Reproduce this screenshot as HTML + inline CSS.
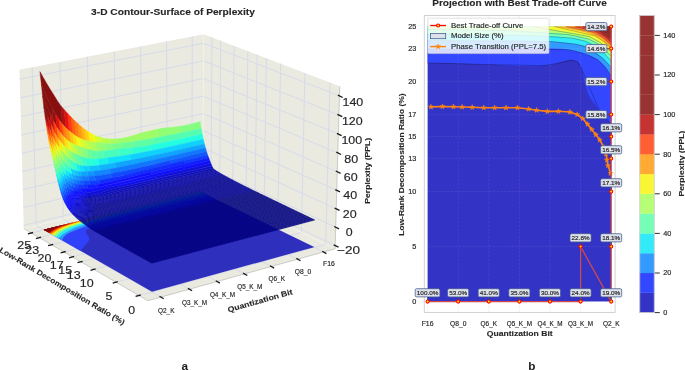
<!DOCTYPE html>
<html><head><meta charset="utf-8"><title>Perplexity surface</title>
<style>html,body{margin:0;padding:0;background:#fff}svg{display:block;will-change:transform;transform:translateZ(0)}text{font-family:"Liberation Sans",sans-serif}</style></head>
<body>
<svg width="685" height="370" viewBox="0 0 685 370" font-family="'Liberation Sans', sans-serif">
<rect width="685" height="370" fill="#fff"/>
<g id="ax3d">
<polygon points="147.9,300.7 335.1,248.8 202.9,185.1 23.8,228.6" fill="#eaeae0"/>
<polygon points="23.8,228.6 202.9,185.1 203.6,34.3 19.5,69.8" fill="#eaeae0"/>
<polygon points="335.1,248.8 202.9,185.1 203.6,34.3 339.7,86.3" fill="#eaeae0"/>
<g stroke-linecap="butt">
<line x1="160.9" y1="297.1" x2="36.2" y2="225.6" stroke="#d6dbea" stroke-width="1.0"/>
<line x1="36.2" y1="225.6" x2="32.2" y2="67.4" stroke="#d6dbea" stroke-width="1.0"/>
<line x1="189.3" y1="289.2" x2="63.2" y2="219" stroke="#d6dbea" stroke-width="1.0"/>
<line x1="63.2" y1="219" x2="60" y2="62" stroke="#d6dbea" stroke-width="1.0"/>
<line x1="217.2" y1="281.5" x2="89.8" y2="212.6" stroke="#d6dbea" stroke-width="1.0"/>
<line x1="89.8" y1="212.6" x2="87.4" y2="56.7" stroke="#d6dbea" stroke-width="1.0"/>
<line x1="244.5" y1="273.9" x2="116" y2="206.2" stroke="#d6dbea" stroke-width="1.0"/>
<line x1="116" y1="206.2" x2="114.3" y2="51.5" stroke="#d6dbea" stroke-width="1.0"/>
<line x1="271.4" y1="266.5" x2="141.7" y2="199.9" stroke="#d6dbea" stroke-width="1.0"/>
<line x1="141.7" y1="199.9" x2="140.7" y2="46.4" stroke="#d6dbea" stroke-width="1.0"/>
<line x1="297.7" y1="259.2" x2="167" y2="193.8" stroke="#d6dbea" stroke-width="1.0"/>
<line x1="167" y1="193.8" x2="166.7" y2="41.4" stroke="#d6dbea" stroke-width="1.0"/>
<line x1="323.6" y1="252" x2="191.9" y2="187.7" stroke="#d6dbea" stroke-width="1.0"/>
<line x1="191.9" y1="187.7" x2="192.3" y2="36.5" stroke="#d6dbea" stroke-width="1.0"/>
<line x1="139" y1="295.5" x2="325.7" y2="244.3" stroke="#d6dbea" stroke-width="1.0"/>
<line x1="325.7" y1="244.3" x2="330" y2="82.6" stroke="#d6dbea" stroke-width="1.0"/>
<line x1="116.1" y1="282.2" x2="301.4" y2="232.5" stroke="#d6dbea" stroke-width="1.0"/>
<line x1="301.4" y1="232.5" x2="304.9" y2="73" stroke="#d6dbea" stroke-width="1.0"/>
<line x1="94" y1="269.3" x2="277.8" y2="221.2" stroke="#d6dbea" stroke-width="1.0"/>
<line x1="277.8" y1="221.2" x2="280.6" y2="63.7" stroke="#d6dbea" stroke-width="1.0"/>
<line x1="81" y1="261.8" x2="264" y2="214.5" stroke="#d6dbea" stroke-width="1.0"/>
<line x1="264" y1="214.5" x2="266.4" y2="58.3" stroke="#d6dbea" stroke-width="1.0"/>
<line x1="72.4" y1="256.8" x2="254.9" y2="210.1" stroke="#d6dbea" stroke-width="1.0"/>
<line x1="254.9" y1="210.1" x2="257" y2="54.7" stroke="#d6dbea" stroke-width="1.0"/>
<line x1="64" y1="251.9" x2="245.9" y2="205.8" stroke="#d6dbea" stroke-width="1.0"/>
<line x1="245.9" y1="205.8" x2="247.8" y2="51.2" stroke="#d6dbea" stroke-width="1.0"/>
<line x1="51.6" y1="244.7" x2="232.6" y2="199.4" stroke="#d6dbea" stroke-width="1.0"/>
<line x1="232.6" y1="199.4" x2="234.1" y2="46" stroke="#d6dbea" stroke-width="1.0"/>
<line x1="39.4" y1="237.6" x2="219.6" y2="193.1" stroke="#d6dbea" stroke-width="1.0"/>
<line x1="219.6" y1="193.1" x2="220.7" y2="40.8" stroke="#d6dbea" stroke-width="1.0"/>
<line x1="31.4" y1="233" x2="211" y2="188.9" stroke="#d6dbea" stroke-width="1.0"/>
<line x1="211" y1="188.9" x2="211.9" y2="37.5" stroke="#d6dbea" stroke-width="1.0"/>
<line x1="23.7" y1="225.4" x2="202.9" y2="182" stroke="#d6dbea" stroke-width="1.0"/>
<line x1="202.9" y1="182" x2="335.2" y2="245.5" stroke="#d6dbea" stroke-width="1.0"/>
<line x1="23.3" y1="207.5" x2="203" y2="165" stroke="#d6dbea" stroke-width="1.0"/>
<line x1="203" y1="165" x2="335.7" y2="227.3" stroke="#d6dbea" stroke-width="1.0"/>
<line x1="22.8" y1="189.6" x2="203.1" y2="147.9" stroke="#d6dbea" stroke-width="1.0"/>
<line x1="203.1" y1="147.9" x2="336.3" y2="208.9" stroke="#d6dbea" stroke-width="1.0"/>
<line x1="22.3" y1="171.5" x2="203.2" y2="130.7" stroke="#d6dbea" stroke-width="1.0"/>
<line x1="203.2" y1="130.7" x2="336.8" y2="190.4" stroke="#d6dbea" stroke-width="1.0"/>
<line x1="21.8" y1="153.2" x2="203.2" y2="113.5" stroke="#d6dbea" stroke-width="1.0"/>
<line x1="203.2" y1="113.5" x2="337.3" y2="171.7" stroke="#d6dbea" stroke-width="1.0"/>
<line x1="21.3" y1="134.9" x2="203.3" y2="96.1" stroke="#d6dbea" stroke-width="1.0"/>
<line x1="203.3" y1="96.1" x2="337.8" y2="153" stroke="#d6dbea" stroke-width="1.0"/>
<line x1="20.7" y1="116.5" x2="203.4" y2="78.5" stroke="#d6dbea" stroke-width="1.0"/>
<line x1="203.4" y1="78.5" x2="338.4" y2="134.1" stroke="#d6dbea" stroke-width="1.0"/>
<line x1="20.2" y1="97.9" x2="203.5" y2="60.9" stroke="#d6dbea" stroke-width="1.0"/>
<line x1="203.5" y1="60.9" x2="338.9" y2="115.1" stroke="#d6dbea" stroke-width="1.0"/>
<line x1="19.7" y1="79.2" x2="203.6" y2="43.2" stroke="#d6dbea" stroke-width="1.0"/>
<line x1="203.6" y1="43.2" x2="339.5" y2="95.9" stroke="#d6dbea" stroke-width="1.0"/>
</g>
<line x1="202.9" y1="185.1" x2="203.6" y2="34.3" stroke="#f2f2ec" stroke-width="0.8"/>
<line x1="23.8" y1="228.6" x2="202.9" y2="185.1" stroke="#f2f2ec" stroke-width="0.8"/>
<line x1="335.1" y1="248.8" x2="202.9" y2="185.1" stroke="#f2f2ec" stroke-width="0.8"/>
<path d="M313.9 247.2 152 291.7 43.7 229.7 199.9 191.4 314.2 247.1 313.9 247.2Z" fill="#2f2fbe"/>
<path d="M80.3 250.7 43.7 229.7 199.9 191.4 214.1 198.3 181.5 206.6 142.3 217 126 221.2 111 224.5 93.8 227.4 91.1 228 88 229 86.9 229.5 86.1 230.2 85.8 230.8 85.7 231.5 85.9 232.5 86.3 233.3 88.3 236.2 89.1 237.5 89.3 238.6 89.1 239.8 88.7 240.7 88.2 241.5 85.9 244.5 81.6 249.6 81 250.2 80.3 250.7Z" fill="#2f42f9"/>
<path d="M62.1 240.2 43.7 229.7 199.9 191.4 208.7 195.7 117.5 217.9 101.4 222 90.8 224.9 84.1 227.1 78 229.3 72.9 231.3 69.1 233 66.5 234.6 64.5 236.2 63.1 238 62.5 239 62.1 240.2Z" fill="#2f96f9"/>
<path d="M58.7 238.3 43.7 229.7 199.9 191.4 205.2 194 147.5 208.2 113.8 216.7 96.7 221.2 81.7 225.5 77.1 227 74.5 228 66.7 231.9 64.4 233.4 62.2 234.9 60.7 236.3 58.7 238.3Z" fill="#27e5f4"/>
<path d="M56.4 236.9 43.7 229.7 199.9 191.4 202.9 192.9 152 205.4 131.5 210.6 98.9 219 88.6 221.8 80.9 224 76.6 225.4 72.2 227 68.4 228.5 64.8 230.3 62.6 231.5 60.4 233.1 59.3 234.1 57.4 236.1 56.4 236.9Z" fill="#68fcac"/>
<path d="M54.6 235.9 43.7 229.7 199.9 191.4 201 191.9 142.3 206.6 99.1 217.9 86.4 221.5 72.8 225.7 68.4 227.3 64.7 228.9 61.9 230.3 59.7 231.6 57.9 233 54.6 235.9Z" fill="#abfd62"/>
<path d="M53 235 43.7 229.7 112.1 212.9 104.9 215.2 78.3 223.1 72.4 225 68.5 226.3 64 228.2 60.6 229.8 57.8 231.6 53 235Z" fill="#f7f410"/>
<path d="M51.8 234.3 43.7 229.7 93.6 217.5 72.3 224.1 67.8 225.6 63.4 227.3 60.1 228.7 57.4 230.2 54.9 231.9 51.8 234.3Z" fill="#fe9809"/>
<path d="M50.6 233.6 43.7 229.7 83.8 219.9 69.7 224.2 64.5 226 60.7 227.5 58 228.7 55.4 230.1 53.4 231.4 50.6 233.6Z" fill="#fe3f09"/>
<path d="M49.6 233 43.7 229.7 75.7 221.8 65.6 225 61.7 226.3 58.6 227.6 56.2 228.7 54 229.9 52.1 231.1 49.6 233Z" fill="#b80909"/>
<path d="M48.6 232.4 43.7 229.7 68.7 223.6 63 225.3 59.3 226.6 56.7 227.6 54.6 228.6 52.5 229.8 50.7 230.9 48.6 232.4Z" fill="#840909"/>
<path d="M47.4 231.8 43.7 229.7 62.3 225.1 57.5 226.7 53.8 228.2 50.3 229.9 47.4 231.8Z" fill="#840909"/>
<path d="M46.6 231 46.4 231.2 43.7 229.7 57.4 226.3 53.9 227.5 51.2 228.6 48.8 229.8 46.6 231Z" fill="#840909"/>
<path d="M45.6 230.5 45.4 230.6 43.7 229.7 52.5 227.5 48.5 229.1 45.6 230.5Z" fill="#840909"/>
<path d="M44.8 230 44.6 230.2 43.7 229.7 47.8 228.7 44.8 230Z" fill="#840909"/>
<g opacity="0.93" stroke-width="0.45" stroke-linejoin="round">
<path d="M200.2 121.6 194.2 123.3 191.1 124.1 185.1 125.4 179 126.5 180.1 133.2 189.2 131.3 201.2 128.7Z" fill="#7dff7a" stroke="#7dff7a"/>
<path d="M179 126.5 175.9 126.9 163.7 128.1 160.6 128.6 157.5 129.2 158.6 137.3 170.9 135 180.1 133.2Z" fill="#8aff6d" stroke="#8aff6d"/>
<path d="M157.5 129.2 151.3 130.5 145.1 132 142 132.8 138.8 133.7 132.6 135.7 126.3 137.4 123.1 138.1 119.9 138.6 116.8 138.9 117.9 143.5 124.2 142.8 143.1 140 149.3 139 158.6 137.3Z" fill="#97ff60" stroke="#97ff60"/>
<path d="M116.8 138.9 113.6 139.1 110.4 139.1 111.5 143.8 114.7 143.8 117.9 143.5Z" fill="#a4ff53" stroke="#a4ff53"/>
<path d="M110.4 139.1 107.2 138.8 104 138.2 105.1 143.4 108.3 143.7 111.5 143.8Z" fill="#b1ff46" stroke="#b1ff46"/>
<path d="M104 138.2 100.7 137.5 101.9 143.1 105.1 143.4Z" fill="#beff39" stroke="#beff39"/>
<path d="M100.7 137.5 97.5 136.5 98.6 142.8 101.9 143.1Z" fill="#caff2c" stroke="#caff2c"/>
<path d="M97.5 136.5 94.3 135.3 95.4 142.4 98.6 142.8Z" fill="#d7ff1f" stroke="#d7ff1f"/>
<path d="M94.3 135.3 91 133.4 92.1 141.8 95.4 142.4Z" fill="#f1fc06" stroke="#f1fc06"/>
<path d="M91 133.4 87.7 131.3 88.9 141.2 92.1 141.8Z" fill="#feed00" stroke="#feed00"/>
<path d="M87.7 131.3 84.4 129 85.6 140.5 88.9 141.2Z" fill="#ffd000" stroke="#ffd000"/>
<path d="M84.4 129 81.1 126.5 82.3 139.4 85.6 140.5Z" fill="#ffb200" stroke="#ffb200"/>
<path d="M81.1 126.5 77.8 123.6 79 137.9 82.3 139.4Z" fill="#ff9400" stroke="#ff9400"/>
<path d="M77.8 123.6 74.4 120.5 75.7 135.9 79 137.9Z" fill="#ff7700" stroke="#ff7700"/>
<path d="M74.4 120.5 71.1 117.1 72.4 133.5 75.7 135.9Z" fill="#ff5900" stroke="#ff5900"/>
<path d="M71.1 117.1 67.7 113.5 69 130.8 72.4 133.5Z" fill="#ff2d00" stroke="#ff2d00"/>
<path d="M67.7 113.5 64.3 109.8 65.7 127.7 69 130.8Z" fill="#e80000" stroke="#e80000"/>
<path d="M64.3 109.8 60.9 105.9 62.3 124 65.7 127.7Z" fill="#b20000" stroke="#b20000"/>
<path d="M60.9 105.9 57.5 100.9 54 95.3 50.5 89.8 47 84 43.5 77.9 39.9 71.6 41.3 83.8 44.8 92.7 48.4 100.4 55.4 113.9 58.9 119.5 62.3 124Z" fill="#800000" stroke="#800000"/>
<path d="M201.2 128.7 189.2 131.3 177 133.8 167.8 135.6 152.4 138.5 153.5 144.7 168.9 141.6 202.3 134.3Z" fill="#49ffad" stroke="#49ffad"/>
<path d="M152.4 138.5 146.2 139.5 133.7 141.4 134.8 147.6 141 146.8 144.2 146.4 147.3 145.9 153.5 144.7Z" fill="#56ffa0" stroke="#56ffa0"/>
<path d="M133.7 141.4 124.2 142.8 121 143.2 122.1 148.8 134.8 147.6Z" fill="#63ff94" stroke="#63ff94"/>
<path d="M121 143.2 114.7 143.8 111.5 143.8 112.6 149.8 122.1 148.8Z" fill="#70ff87" stroke="#70ff87"/>
<path d="M111.5 143.8 108.3 143.7 105.1 143.4 106.2 150.6 112.6 149.8Z" fill="#7dff7a" stroke="#7dff7a"/>
<path d="M105.1 143.4 98.6 142.8 99.8 151.2 103 151 106.2 150.6Z" fill="#8aff6d" stroke="#8aff6d"/>
<path d="M98.6 142.8 95.4 142.4 96.5 151.2 99.8 151.2Z" fill="#97ff60" stroke="#97ff60"/>
<path d="M95.4 142.4 92.1 141.8 93.3 150.8 96.5 151.2Z" fill="#a4ff53" stroke="#a4ff53"/>
<path d="M92.1 141.8 88.9 141.2 90 150 93.3 150.8Z" fill="#b1ff46" stroke="#b1ff46"/>
<path d="M88.9 141.2 85.6 140.5 86.8 149 90 150Z" fill="#beff39" stroke="#beff39"/>
<path d="M85.6 140.5 82.3 139.4 83.5 147.8 86.8 149Z" fill="#caff2c" stroke="#caff2c"/>
<path d="M82.3 139.4 79 137.9 80.2 146.7 83.5 147.8Z" fill="#e4ff13" stroke="#e4ff13"/>
<path d="M79 137.9 75.7 135.9 76.9 145.6 80.2 146.7Z" fill="#f1fc06" stroke="#f1fc06"/>
<path d="M75.7 135.9 72.4 133.5 73.6 144.3 76.9 145.6Z" fill="#ffde00" stroke="#ffde00"/>
<path d="M72.4 133.5 69 130.8 70.3 142.5 73.6 144.3Z" fill="#ffc100" stroke="#ffc100"/>
<path d="M69 130.8 65.7 127.7 66.9 139.9 70.3 142.5Z" fill="#ff9400" stroke="#ff9400"/>
<path d="M65.7 127.7 62.3 124 63.6 136.5 66.9 139.9Z" fill="#ff7700" stroke="#ff7700"/>
<path d="M62.3 124 58.9 119.5 60.2 132.5 63.6 136.5Z" fill="#ff3b00" stroke="#ff3b00"/>
<path d="M58.9 119.5 55.4 113.9 56.7 127.3 60.2 132.5Z" fill="#e80000" stroke="#e80000"/>
<path d="M55.4 113.9 51.9 107.1 53.2 120.5 56.7 127.3Z" fill="#8d0000" stroke="#8d0000"/>
<path d="M51.9 107.1 48.4 100.4 44.8 92.7 41.3 83.8 42.6 96.2 46.1 105 49.7 112.6 53.2 120.5Z" fill="#800000" stroke="#800000"/>
<path d="M202.3 134.3 165.8 142.2 150.4 145.3 151.5 150.7 179.1 144.7 203.3 139.2Z" fill="#16ffe1" stroke="#16ffe1"/>
<path d="M150.4 145.3 144.2 146.4 141 146.8 131.6 147.9 132.7 154.3 142.1 152.6 151.5 150.7Z" fill="#23ffd4" stroke="#23ffd4"/>
<path d="M131.6 147.9 119 149.1 120.1 156.2 126.4 155.3 132.7 154.3Z" fill="#30ffc7" stroke="#30ffc7"/>
<path d="M119 149.1 103 151 104.1 158.5 120.1 156.2Z" fill="#3cffba" stroke="#3cffba"/>
<path d="M103 151 99.8 151.2 96.5 151.2 97.7 159.1 100.9 158.8 104.1 158.5Z" fill="#49ffad" stroke="#49ffad"/>
<path d="M96.5 151.2 93.3 150.8 90 150 91.2 159.1 94.5 159.3 97.7 159.1Z" fill="#56ffa0" stroke="#56ffa0"/>
<path d="M90 150 86.8 149 88 158.7 91.2 159.1Z" fill="#63ff94" stroke="#63ff94"/>
<path d="M86.8 149 83.5 147.8 84.7 157.8 88 158.7Z" fill="#7dff7a" stroke="#7dff7a"/>
<path d="M83.5 147.8 80.2 146.7 81.4 156.7 84.7 157.8Z" fill="#8aff6d" stroke="#8aff6d"/>
<path d="M80.2 146.7 76.9 145.6 78.1 155.3 81.4 156.7Z" fill="#97ff60" stroke="#97ff60"/>
<path d="M76.9 145.6 73.6 144.3 74.8 153.8 78.1 155.3Z" fill="#b1ff46" stroke="#b1ff46"/>
<path d="M73.6 144.3 70.3 142.5 71.5 152 74.8 153.8Z" fill="#caff2c" stroke="#caff2c"/>
<path d="M70.3 142.5 66.9 139.9 68.1 149.6 71.5 152Z" fill="#e4ff13" stroke="#e4ff13"/>
<path d="M66.9 139.9 63.6 136.5 64.8 146.6 68.1 149.6Z" fill="#ffde00" stroke="#ffde00"/>
<path d="M63.6 136.5 60.2 132.5 61.4 143 64.8 146.6Z" fill="#ffb200" stroke="#ffb200"/>
<path d="M60.2 132.5 56.7 127.3 58 138.6 61.4 143Z" fill="#ff8600" stroke="#ff8600"/>
<path d="M56.7 127.3 53.2 120.5 54.5 132.7 58 138.6Z" fill="#ff3b00" stroke="#ff3b00"/>
<path d="M53.2 120.5 49.7 112.6 51 124.3 54.5 132.7Z" fill="#c40000" stroke="#c40000"/>
<path d="M49.7 112.6 46.1 105 42.6 96.2 43.8 107 47.4 115.4 51 124.3Z" fill="#800000" stroke="#800000"/>
<path d="M203.3 139.2 179.1 144.7 151.5 150.7 142.1 152.6 135.9 153.7 129.6 154.8 130.7 160.1 143.2 157.7 152.5 155.7 204.4 143.9Z" fill="#00d0ff" stroke="#00d0ff"/>
<path d="M129.6 154.8 123.2 155.8 107.3 158 108.4 164.1 118 162.5 130.7 160.1Z" fill="#00e0fb" stroke="#00e0fb"/>
<path d="M107.3 158 100.9 158.8 97.7 159.1 98.8 165.4 102 165 108.4 164.1Z" fill="#09f0ee" stroke="#09f0ee"/>
<path d="M97.7 159.1 94.5 159.3 91.2 159.1 92.3 166 95.6 165.8 98.8 165.4Z" fill="#16ffe1" stroke="#16ffe1"/>
<path d="M91.2 159.1 88 158.7 84.7 157.8 85.9 166.2 89.1 166.2 92.3 166Z" fill="#23ffd4" stroke="#23ffd4"/>
<path d="M84.7 157.8 81.4 156.7 82.6 165.9 85.9 166.2Z" fill="#30ffc7" stroke="#30ffc7"/>
<path d="M81.4 156.7 78.1 155.3 79.3 165.2 82.6 165.9Z" fill="#49ffad" stroke="#49ffad"/>
<path d="M78.1 155.3 74.8 153.8 76 163.8 79.3 165.2Z" fill="#56ffa0" stroke="#56ffa0"/>
<path d="M74.8 153.8 71.5 152 72.7 161.7 76 163.8Z" fill="#70ff87" stroke="#70ff87"/>
<path d="M71.5 152 68.1 149.6 69.3 159.3 72.7 161.7Z" fill="#8aff6d" stroke="#8aff6d"/>
<path d="M68.1 149.6 64.8 146.6 66 155.9 69.3 159.3Z" fill="#b1ff46" stroke="#b1ff46"/>
<path d="M64.8 146.6 61.4 143 62.6 151.6 66 155.9Z" fill="#d7ff1f" stroke="#d7ff1f"/>
<path d="M61.4 143 58 138.6 59.2 147.6 62.6 151.6Z" fill="#feed00" stroke="#feed00"/>
<path d="M58 138.6 54.5 132.7 55.7 142.8 59.2 147.6Z" fill="#ffa300" stroke="#ffa300"/>
<path d="M54.5 132.7 51 124.3 52.2 136 55.7 142.8Z" fill="#ff5900" stroke="#ff5900"/>
<path d="M51 124.3 47.4 115.4 48.7 126.2 52.2 136Z" fill="#d60000" stroke="#d60000"/>
<path d="M47.4 115.4 43.8 107 45.1 116.5 48.7 126.2Z" fill="#800000" stroke="#800000"/>
<path d="M204.4 143.9 164.9 152.9 146.3 157 140.1 158.3 130.7 160.1 114.8 163 115.9 168 131.7 164.8 147.4 161.4 205.5 148.1Z" fill="#00a0ff" stroke="#00a0ff"/>
<path d="M114.8 163 105.2 164.6 98.8 165.4 99.9 170.6 106.3 169.6 109.5 169.1 115.9 168Z" fill="#00b0ff" stroke="#00b0ff"/>
<path d="M98.8 165.4 95.6 165.8 92.3 166 89.1 166.2 90.2 171.4 96.7 170.9 99.9 170.6Z" fill="#00c0ff" stroke="#00c0ff"/>
<path d="M89.1 166.2 85.9 166.2 82.6 165.9 83.7 171.7 90.2 171.4Z" fill="#00d0ff" stroke="#00d0ff"/>
<path d="M82.6 165.9 79.3 165.2 80.4 171.7 83.7 171.7Z" fill="#00e0fb" stroke="#00e0fb"/>
<path d="M79.3 165.2 76 163.8 77.2 171.3 80.4 171.7Z" fill="#09f0ee" stroke="#09f0ee"/>
<path d="M76 163.8 72.7 161.7 73.9 170.2 77.2 171.3Z" fill="#23ffd4" stroke="#23ffd4"/>
<path d="M72.7 161.7 69.3 159.3 70.5 168.2 73.9 170.2Z" fill="#3cffba" stroke="#3cffba"/>
<path d="M69.3 159.3 66 155.9 67.2 165.2 70.5 168.2Z" fill="#56ffa0" stroke="#56ffa0"/>
<path d="M66 155.9 62.6 151.6 63.8 161.3 67.2 165.2Z" fill="#7dff7a" stroke="#7dff7a"/>
<path d="M62.6 151.6 59.2 147.6 60.4 155.7 63.8 161.3Z" fill="#b1ff46" stroke="#b1ff46"/>
<path d="M59.2 147.6 55.7 142.8 56.9 150.1 60.4 155.7Z" fill="#f1fc06" stroke="#f1fc06"/>
<path d="M55.7 142.8 52.2 136 53.4 143.9 56.9 150.1Z" fill="#ffc100" stroke="#ffc100"/>
<path d="M52.2 136 48.7 126.2 49.9 134.8 53.4 143.9Z" fill="#ff5900" stroke="#ff5900"/>
<path d="M48.7 126.2 45.1 116.5 46.2 123.7 49.9 134.8Z" fill="#c40000" stroke="#c40000"/>
<path d="M205.5 148.1 153.6 160 144.3 162.1 134.9 164.1 125.4 166.1 115.9 168 109.5 169.1 110.6 173.7 117 172.5 123.3 171.1 139.1 167.6 206.5 151.6Z" fill="#0070ff" stroke="#0070ff"/>
<path d="M109.5 169.1 103.1 170.1 99.9 170.6 93.5 171.2 94.6 175.9 97.8 175.7 101 175.3 104.2 174.8 110.6 173.7Z" fill="#0080ff" stroke="#0080ff"/>
<path d="M93.5 171.2 87 171.6 88.1 176.2 94.6 175.9Z" fill="#0090ff" stroke="#0090ff"/>
<path d="M87 171.6 83.7 171.7 80.4 171.7 81.5 176.3 88.1 176.2Z" fill="#00a0ff" stroke="#00a0ff"/>
<path d="M80.4 171.7 77.2 171.3 78.3 176.3 81.5 176.3Z" fill="#00b0ff" stroke="#00b0ff"/>
<path d="M77.2 171.3 73.9 170.2 75 175.8 78.3 176.3Z" fill="#00c0ff" stroke="#00c0ff"/>
<path d="M73.9 170.2 70.5 168.2 71.7 174.4 75 175.8Z" fill="#00d0ff" stroke="#00d0ff"/>
<path d="M70.5 168.2 67.2 165.2 68.3 172.4 71.7 174.4Z" fill="#16ffe1" stroke="#16ffe1"/>
<path d="M67.2 165.2 63.8 161.3 65 169.5 68.3 172.4Z" fill="#30ffc7" stroke="#30ffc7"/>
<path d="M63.8 161.3 60.4 155.7 61.6 165 65 169.5Z" fill="#63ff94" stroke="#63ff94"/>
<path d="M60.4 155.7 56.9 150.1 58.1 157.6 61.6 165Z" fill="#a4ff53" stroke="#a4ff53"/>
<path d="M56.9 150.1 53.4 143.9 54.6 150.5 58.1 157.6Z" fill="#e4ff13" stroke="#e4ff13"/>
<path d="M53.4 143.9 49.9 134.8 51.1 142.3 54.6 150.5Z" fill="#ffa300" stroke="#ffa300"/>
<path d="M49.9 134.8 46.2 123.7 47.4 131.7 51.1 142.3Z" fill="#ff3b00" stroke="#ff3b00"/>
<path d="M206.5 151.6 170.1 160.2 171.2 163.7 207.6 154.9Z" fill="#0050ff" stroke="#0050ff"/>
<path d="M170.1 160.2 148.5 165.4 132.8 169 120.2 171.8 110.6 173.7 111.7 178 118.1 176.6 127.6 174.4 171.2 163.7Z" fill="#0040ff" stroke="#0040ff"/>
<path d="M110.6 173.7 104.2 174.8 101 175.3 97.8 175.7 94.6 175.9 95.7 180.6 98.9 180.3 102.1 179.8 105.3 179.2 111.7 178Z" fill="#0050ff" stroke="#0050ff"/>
<path d="M94.6 175.9 88.1 176.2 89.2 180.9 92.4 180.8 95.7 180.6Z" fill="#0060ff" stroke="#0060ff"/>
<path d="M88.1 176.2 81.5 176.3 82.6 180.8 89.2 180.9Z" fill="#0070ff" stroke="#0070ff"/>
<path d="M81.5 176.3 78.3 176.3 79.4 180.7 82.6 180.8Z" fill="#0080ff" stroke="#0080ff"/>
<path d="M78.3 176.3 75 175.8 76.1 180.4 79.4 180.7Z" fill="#0090ff" stroke="#0090ff"/>
<path d="M75 175.8 71.7 174.4 72.8 179.2 76.1 180.4Z" fill="#00a0ff" stroke="#00a0ff"/>
<path d="M71.7 174.4 68.3 172.4 69.4 177.2 72.8 179.2Z" fill="#00c0ff" stroke="#00c0ff"/>
<path d="M68.3 172.4 65 169.5 66.1 175.2 69.4 177.2Z" fill="#00e0fb" stroke="#00e0fb"/>
<path d="M65 169.5 61.6 165 62.7 172 66.1 175.2Z" fill="#23ffd4" stroke="#23ffd4"/>
<path d="M61.6 165 58.1 157.6 59.3 166.1 62.7 172Z" fill="#56ffa0" stroke="#56ffa0"/>
<path d="M58.1 157.6 54.6 150.5 55.7 156.7 59.3 166.1Z" fill="#a4ff53" stroke="#a4ff53"/>
<path d="M54.6 150.5 51.1 142.3 52.2 148.9 55.7 156.7Z" fill="#feed00" stroke="#feed00"/>
<path d="M51.1 142.3 47.4 131.7 48.6 139.4 52.2 148.9Z" fill="#ff8600" stroke="#ff8600"/>
<path d="M207.6 154.9 183.4 160.7 184.5 163.7 208.7 157.8Z" fill="#0030ff" stroke="#0030ff"/>
<path d="M183.4 160.7 133.9 172.8 121.3 175.9 114.9 177.3 108.5 178.6 102.1 179.8 98.9 180.3 100 183.9 106.4 182.5 116 180.4 128.7 177.4 156.8 170.4 184.5 163.7Z" fill="#0020ff" stroke="#0020ff"/>
<path d="M98.9 180.3 95.7 180.6 92.4 180.8 89.2 180.9 90.3 185.1 93.5 184.9 96.7 184.4 100 183.9Z" fill="#0030ff" stroke="#0030ff"/>
<path d="M89.2 180.9 82.6 180.8 83.7 184.9 87 185.1 90.3 185.1Z" fill="#0040ff" stroke="#0040ff"/>
<path d="M82.6 180.8 79.4 180.7 80.5 184.8 83.7 184.9Z" fill="#0050ff" stroke="#0050ff"/>
<path d="M79.4 180.7 76.1 180.4 77.2 184.6 80.5 184.8Z" fill="#0060ff" stroke="#0060ff"/>
<path d="M76.1 180.4 72.8 179.2 73.9 183.7 77.2 184.6Z" fill="#0070ff" stroke="#0070ff"/>
<path d="M72.8 179.2 69.4 177.2 70.5 181.4 73.9 183.7Z" fill="#0090ff" stroke="#0090ff"/>
<path d="M69.4 177.2 66.1 175.2 67.2 179.4 70.5 181.4Z" fill="#00b0ff" stroke="#00b0ff"/>
<path d="M66.1 175.2 62.7 172 63.8 177 67.2 179.4Z" fill="#00d0ff" stroke="#00d0ff"/>
<path d="M62.7 172 59.3 166.1 60.4 172.5 63.8 177Z" fill="#23ffd4" stroke="#23ffd4"/>
<path d="M59.3 166.1 55.7 156.7 56.9 164 60.4 172.5Z" fill="#70ff87" stroke="#70ff87"/>
<path d="M55.7 156.7 52.2 148.9 53.4 154.5 56.9 164Z" fill="#caff2c" stroke="#caff2c"/>
<path d="M52.2 148.9 48.6 139.4 49.8 145.5 53.4 154.5Z" fill="#ffc100" stroke="#ffc100"/>
<path d="M208.7 157.8 150.6 171.9 151.7 174.5 209.7 160.5Z" fill="#0010ff" stroke="#0010ff"/>
<path d="M150.6 171.9 128.7 177.4 116 180.4 103.2 183.2 100 183.9 96.7 184.4 97.8 187.5 101 186.7 126.6 180.6 151.7 174.5Z" fill="#0000ff" stroke="#0000ff"/>
<path d="M96.7 184.4 93.5 184.9 90.3 185.1 87 185.1 88.1 188.8 91.3 188.6 94.6 188.1 97.8 187.5Z" fill="#0010ff" stroke="#0010ff"/>
<path d="M87 185.1 83.7 184.9 84.8 188.6 88.1 188.8Z" fill="#0020ff" stroke="#0020ff"/>
<path d="M83.7 184.9 77.2 184.6 78.3 188.3 81.6 188.4 84.8 188.6Z" fill="#0030ff" stroke="#0030ff"/>
<path d="M77.2 184.6 73.9 183.7 75 188 78.3 188.3Z" fill="#0040ff" stroke="#0040ff"/>
<path d="M73.9 183.7 70.5 181.4 71.7 186.4 75 188Z" fill="#0060ff" stroke="#0060ff"/>
<path d="M70.5 181.4 67.2 179.4 68.3 183.6 71.7 186.4Z" fill="#0080ff" stroke="#0080ff"/>
<path d="M67.2 179.4 63.8 177 64.9 180.9 68.3 183.6Z" fill="#00a0ff" stroke="#00a0ff"/>
<path d="M63.8 177 60.4 172.5 61.5 177.3 64.9 180.9Z" fill="#00d0ff" stroke="#00d0ff"/>
<path d="M60.4 172.5 56.9 164 58.1 170 61.5 177.3Z" fill="#30ffc7" stroke="#30ffc7"/>
<path d="M56.9 164 53.4 154.5 54.5 159.8 58.1 170Z" fill="#97ff60" stroke="#97ff60"/>
<path d="M53.4 154.5 49.8 145.5 50.9 151 54.5 159.8Z" fill="#f1fc06" stroke="#f1fc06"/>
<path d="M209.7 160.5 154.8 173.7 123.4 181.4 97.8 187.5 94.6 188.1 91.3 188.6 88.1 188.8 84.8 188.6 85.9 192.5 89.2 192.6 92.4 192.1 108.5 187.7 121.3 184.5 146.5 178.5 183.6 169.8 210.8 163.3Z" fill="#0000ff" stroke="#0000ff"/>
<path d="M84.8 188.6 81.6 188.4 82.6 191.9 85.9 192.5Z" fill="#0000ff" stroke="#0000ff"/>
<path d="M81.6 188.4 78.3 188.3 79.3 191.2 82.6 191.9Z" fill="#0010ff" stroke="#0010ff"/>
<path d="M78.3 188.3 75 188 76.1 191 79.3 191.2Z" fill="#0020ff" stroke="#0020ff"/>
<path d="M75 188 71.7 186.4 72.8 190.8 76.1 191Z" fill="#0030ff" stroke="#0030ff"/>
<path d="M71.7 186.4 68.3 183.6 69.4 189.1 72.8 190.8Z" fill="#0050ff" stroke="#0050ff"/>
<path d="M68.3 183.6 64.9 180.9 66 185.1 69.4 189.1Z" fill="#0070ff" stroke="#0070ff"/>
<path d="M64.9 180.9 61.5 177.3 62.6 180.9 66 185.1Z" fill="#00b0ff" stroke="#00b0ff"/>
<path d="M61.5 177.3 58.1 170 59.2 174.6 62.6 180.9Z" fill="#09f0ee" stroke="#09f0ee"/>
<path d="M58.1 170 54.5 159.8 55.6 164.2 59.2 174.6Z" fill="#63ff94" stroke="#63ff94"/>
<path d="M54.5 159.8 50.9 151 52 155.4 55.6 164.2Z" fill="#caff2c" stroke="#caff2c"/>
<path d="M210.8 163.3 183.6 169.8 155.9 176.2 156.9 178.6 184.7 172.2 208.9 166.6 211.9 165.9Z" fill="#0000da" stroke="#0000da"/>
<path d="M155.9 176.2 140.3 179.9 118.1 185.3 119.2 187.4 138.2 182.9 156.9 178.6Z" fill="#0000ed" stroke="#0000ed"/>
<path d="M118.1 185.3 105.3 188.5 92.4 192.1 89.2 192.6 85.9 192.5 87 196.1 90.3 195.9 93.5 195.1 100 192.9 106.4 190.8 109.6 189.9 119.2 187.4Z" fill="#0000da" stroke="#0000da"/>
<path d="M85.9 192.5 82.6 191.9 83.7 195.4 87 196.1Z" fill="#0000ed" stroke="#0000ed"/>
<path d="M82.6 191.9 79.3 191.2 80.4 193.8 83.7 195.4Z" fill="#0000ff" stroke="#0000ff"/>
<path d="M79.3 191.2 76.1 191 77.1 192.9 80.4 193.8Z" fill="#0000ff" stroke="#0000ff"/>
<path d="M76.1 191 72.8 190.8 73.8 192.9 77.1 192.9Z" fill="#0010ff" stroke="#0010ff"/>
<path d="M72.8 190.8 69.4 189.1 70.5 193 73.8 192.9Z" fill="#0020ff" stroke="#0020ff"/>
<path d="M69.4 189.1 66 185.1 67.2 190.6 70.5 193Z" fill="#0040ff" stroke="#0040ff"/>
<path d="M66 185.1 62.6 180.9 63.7 184.3 67.2 190.6Z" fill="#0080ff" stroke="#0080ff"/>
<path d="M62.6 180.9 59.2 174.6 60.3 178.4 63.7 184.3Z" fill="#00d0ff" stroke="#00d0ff"/>
<path d="M59.2 174.6 55.6 164.2 56.7 168.4 60.3 178.4Z" fill="#3cffba" stroke="#3cffba"/>
<path d="M55.6 164.2 52 155.4 53.2 159.6 56.7 168.4Z" fill="#a4ff53" stroke="#a4ff53"/>
<path d="M211.9 165.9 184.7 172.2 144.5 181.4 122.4 186.7 112.8 189.1 106.4 190.8 96.7 194 97.8 196 107.5 192.7 113.9 191 123.4 188.5 142.4 184.1 182.7 175 212.9 168Z" fill="#0000c8" stroke="#0000c8"/>
<path d="M96.7 194 93.5 195.1 90.3 195.9 87 196.1 88.1 198.5 91.3 197.9 94.6 197 97.8 196Z" fill="#0000b6" stroke="#0000b6"/>
<path d="M87 196.1 83.7 195.4 84.8 198.4 88.1 198.5Z" fill="#0000c8" stroke="#0000c8"/>
<path d="M83.7 195.4 80.4 193.8 81.5 196.2 84.8 198.4Z" fill="#0000da" stroke="#0000da"/>
<path d="M80.4 193.8 77.1 192.9 78.2 194.8 81.5 196.2Z" fill="#0000ff" stroke="#0000ff"/>
<path d="M77.1 192.9 73.8 192.9 74.9 194.6 78.2 194.8Z" fill="#0000ff" stroke="#0000ff"/>
<path d="M73.8 192.9 70.5 193 71.6 194.7 74.9 194.6Z" fill="#0010ff" stroke="#0010ff"/>
<path d="M70.5 193 67.2 190.6 68.3 194.4 71.6 194.7Z" fill="#0020ff" stroke="#0020ff"/>
<path d="M67.2 190.6 63.7 184.3 64.8 189 68.3 194.4Z" fill="#0050ff" stroke="#0050ff"/>
<path d="M63.7 184.3 60.3 178.4 61.4 182.3 64.8 189Z" fill="#00a0ff" stroke="#00a0ff"/>
<path d="M60.3 178.4 56.7 168.4 57.8 173.5 61.4 182.3Z" fill="#23ffd4" stroke="#23ffd4"/>
<path d="M56.7 168.4 53.2 159.6 54.3 164.8 57.8 173.5Z" fill="#7dff7a" stroke="#7dff7a"/>
<path d="M212.9 168 182.7 175 142.4 184.1 123.4 188.5 113.9 191 107.5 192.7 94.6 197 95.6 197.9 102.1 196.2 111.7 193.3 124.5 190.1 140.3 186.3 183.8 176.5 214 169.4Z" fill="#0000b6" stroke="#0000b6"/>
<path d="M94.6 197 91.3 197.9 88.1 198.5 89.1 199.5 92.4 198.7 95.6 197.9Z" fill="#0000a4" stroke="#0000a4"/>
<path d="M88.1 198.5 84.8 198.4 85.9 200 89.1 199.5Z" fill="#0000b6" stroke="#0000b6"/>
<path d="M84.8 198.4 81.5 196.2 82.6 198.4 85.9 200Z" fill="#0000c8" stroke="#0000c8"/>
<path d="M81.5 196.2 78.2 194.8 79.2 196.4 82.6 198.4Z" fill="#0000ed" stroke="#0000ed"/>
<path d="M78.2 194.8 74.9 194.6 75.9 196.2 79.2 196.4Z" fill="#0000ff" stroke="#0000ff"/>
<path d="M74.9 194.6 71.6 194.7 72.6 196.3 75.9 196.2Z" fill="#0000ff" stroke="#0000ff"/>
<path d="M71.6 194.7 68.3 194.4 69.3 196 72.6 196.3Z" fill="#0010ff" stroke="#0010ff"/>
<path d="M68.3 194.4 64.8 189 66 194.2 69.3 196Z" fill="#0030ff" stroke="#0030ff"/>
<path d="M64.8 189 61.4 182.3 62.5 186.1 66 194.2Z" fill="#0070ff" stroke="#0070ff"/>
<path d="M61.4 182.3 57.8 173.5 59 178.3 62.5 186.1Z" fill="#00e0fb" stroke="#00e0fb"/>
<path d="M57.8 173.5 54.3 164.8 55.4 169.9 59 178.3Z" fill="#56ffa0" stroke="#56ffa0"/>
<path d="M214 169.4 202 172.2 203.1 173 215.1 170.1Z" fill="#0000a4" stroke="#0000a4"/>
<path d="M202 172.2 177.6 177.9 140.3 186.3 124.5 190.1 111.7 193.3 102.1 196.2 103.1 197 112.8 194.4 125.6 191.2 203.1 173Z" fill="#0000b6" stroke="#0000b6"/>
<path d="M102.1 196.2 95.6 197.9 92.4 198.7 89.1 199.5 85.9 200 86.9 200.9 90.2 200.2 93.4 199.5 103.1 197Z" fill="#0000a4" stroke="#0000a4"/>
<path d="M85.9 200 82.6 198.4 83.6 200.3 86.9 200.9Z" fill="#0000b6" stroke="#0000b6"/>
<path d="M82.6 198.4 79.2 196.4 80.3 198 83.6 200.3Z" fill="#0000da" stroke="#0000da"/>
<path d="M79.2 196.4 75.9 196.2 77 197.6 80.3 198Z" fill="#0000ed" stroke="#0000ed"/>
<path d="M75.9 196.2 72.6 196.3 73.7 197.8 77 197.6Z" fill="#0000ff" stroke="#0000ff"/>
<path d="M72.6 196.3 69.3 196 70.4 197.6 73.7 197.8Z" fill="#0000ff" stroke="#0000ff"/>
<path d="M69.3 196 66 194.2 67 196.7 70.4 197.6Z" fill="#0010ff" stroke="#0010ff"/>
<path d="M66 194.2 62.5 186.1 63.6 190.5 67 196.7Z" fill="#0050ff" stroke="#0050ff"/>
<path d="M62.5 186.1 59 178.3 60.1 182.9 63.6 190.5Z" fill="#00b0ff" stroke="#00b0ff"/>
<path d="M59 178.3 55.4 169.9 56.6 175.2 60.1 182.9Z" fill="#23ffd4" stroke="#23ffd4"/>
<path d="M215.1 170.1 178.7 178.8 141.4 187.5 142.4 188.3 164.3 183.2 216.2 170.9Z" fill="#0000a4" stroke="#0000a4"/>
<path d="M141.4 187.5 125.6 191.2 119.2 192.8 120.2 193.6 142.4 188.3Z" fill="#0000b6" stroke="#0000b6"/>
<path d="M119.2 192.8 109.6 195.2 96.7 198.7 93.4 199.5 90.2 200.2 86.9 200.9 87.9 201.6 91.2 201 97.7 199.4 110.6 196 120.2 193.6Z" fill="#0000a4" stroke="#0000a4"/>
<path d="M86.9 200.9 83.6 200.3 84.7 201.7 87.9 201.6Z" fill="#0000b6" stroke="#0000b6"/>
<path d="M83.6 200.3 80.3 198 81.3 199.4 84.7 201.7Z" fill="#0000c8" stroke="#0000c8"/>
<path d="M80.3 198 77 197.6 73.7 197.8 74.7 199.2 78 198.9 81.3 199.4Z" fill="#0000ed" stroke="#0000ed"/>
<path d="M73.7 197.8 70.4 197.6 71.4 199 74.7 199.2Z" fill="#0000ff" stroke="#0000ff"/>
<path d="M70.4 197.6 67 196.7 68.1 198.2 71.4 199Z" fill="#0000ff" stroke="#0000ff"/>
<path d="M67 196.7 63.6 190.5 64.7 195.4 68.1 198.2Z" fill="#0030ff" stroke="#0030ff"/>
<path d="M63.6 190.5 60.1 182.9 61.2 187 64.7 195.4Z" fill="#0080ff" stroke="#0080ff"/>
<path d="M60.1 182.9 56.6 175.2 57.7 180.1 61.2 187Z" fill="#00e0fb" stroke="#00e0fb"/>
<path d="M216.2 170.9 126.6 192.1 113.8 195.2 94.5 200.2 91.2 201 87.9 201.6 84.7 201.7 85.7 202.6 89 202.4 92.3 201.7 98.8 200.2 114.9 196 127.7 192.8 217.3 171.6Z" fill="#0000a4" stroke="#0000a4"/>
<path d="M84.7 201.7 81.3 199.4 82.4 200.7 85.7 202.6Z" fill="#0000c8" stroke="#0000c8"/>
<path d="M81.3 199.4 78 198.9 79.1 200.2 82.4 200.7Z" fill="#0000da" stroke="#0000da"/>
<path d="M78 198.9 74.7 199.2 71.4 199 72.5 200.3 75.8 200.5 79.1 200.2Z" fill="#0000ed" stroke="#0000ed"/>
<path d="M71.4 199 68.1 198.2 69.1 199.7 72.5 200.3Z" fill="#0000ff" stroke="#0000ff"/>
<path d="M68.1 198.2 64.7 195.4 65.8 198.3 69.1 199.7Z" fill="#0010ff" stroke="#0010ff"/>
<path d="M64.7 195.4 61.2 187 62.3 191 65.8 198.3Z" fill="#0050ff" stroke="#0050ff"/>
<path d="M61.2 187 57.7 180.1 58.8 184.5 62.3 191Z" fill="#00b0ff" stroke="#00b0ff"/>
<path d="M217.3 171.6 127.7 192.8 114.9 196 95.5 201 92.3 201.7 89 202.4 85.7 202.6 86.8 203.4 90 203.1 93.3 202.4 99.8 200.9 115.9 196.7 128.7 193.6 218.4 172.2Z" fill="#0000a4" stroke="#0000a4"/>
<path d="M85.7 202.6 82.4 200.7 83.4 201.9 86.8 203.4Z" fill="#0000b6" stroke="#0000b6"/>
<path d="M82.4 200.7 79.1 200.2 75.8 200.5 76.8 201.7 80.1 201.3 83.4 201.9Z" fill="#0000da" stroke="#0000da"/>
<path d="M75.8 200.5 72.5 200.3 73.5 201.6 76.8 201.7Z" fill="#0000ed" stroke="#0000ed"/>
<path d="M72.5 200.3 69.1 199.7 70.2 201 73.5 201.6Z" fill="#0000ff" stroke="#0000ff"/>
<path d="M69.1 199.7 65.8 198.3 66.8 199.8 70.2 201Z" fill="#0000ff" stroke="#0000ff"/>
<path d="M65.8 198.3 62.3 191 63.4 195.3 66.8 199.8Z" fill="#0030ff" stroke="#0030ff"/>
<path d="M62.3 191 58.8 184.5 59.9 188.6 63.4 195.3Z" fill="#0090ff" stroke="#0090ff"/>
<path d="M218.4 172.2 128.7 193.6 112.7 197.5 96.6 201.7 93.3 202.4 90 203.1 86.8 203.4 87.8 204.2 91.1 203.8 94.4 203.2 100.9 201.6 117 197.4 129.8 194.3 219.5 172.9Z" fill="#0000a4" stroke="#0000a4"/>
<path d="M86.8 203.4 83.4 201.9 84.5 203.1 87.8 204.2Z" fill="#0000b6" stroke="#0000b6"/>
<path d="M83.4 201.9 80.1 201.3 81.2 202.4 84.5 203.1Z" fill="#0000c8" stroke="#0000c8"/>
<path d="M80.1 201.3 76.8 201.7 73.5 201.6 74.6 202.8 77.9 202.8 81.2 202.4Z" fill="#0000da" stroke="#0000da"/>
<path d="M73.5 201.6 70.2 201 71.2 202.3 74.6 202.8Z" fill="#0000ed" stroke="#0000ed"/>
<path d="M70.2 201 66.8 199.8 67.9 201.2 71.2 202.3Z" fill="#0000ff" stroke="#0000ff"/>
<path d="M66.8 199.8 63.4 195.3 64.5 199 67.9 201.2Z" fill="#0020ff" stroke="#0020ff"/>
<path d="M63.4 195.3 59.9 188.6 61 192.3 64.5 199Z" fill="#0060ff" stroke="#0060ff"/>
<path d="M219.5 172.9 129.8 194.3 113.8 198.2 97.6 202.4 91.1 203.8 87.8 204.2 88.9 204.9 92.1 204.5 95.4 203.8 101.9 202.3 118.1 198.1 130.9 195 220.6 173.6Z" fill="#0000a4" stroke="#0000a4"/>
<path d="M87.8 204.2 84.5 203.1 85.6 204.1 88.9 204.9Z" fill="#0000b6" stroke="#0000b6"/>
<path d="M84.5 203.1 81.2 202.4 82.2 203.4 85.6 204.1Z" fill="#0000c8" stroke="#0000c8"/>
<path d="M81.2 202.4 77.9 202.8 74.6 202.8 75.6 203.9 78.9 203.9 82.2 203.4Z" fill="#0000da" stroke="#0000da"/>
<path d="M74.6 202.8 71.2 202.3 72.3 203.5 75.6 203.9Z" fill="#0000ed" stroke="#0000ed"/>
<path d="M71.2 202.3 67.9 201.2 68.9 202.5 72.3 203.5Z" fill="#0000ff" stroke="#0000ff"/>
<path d="M67.9 201.2 64.5 199 65.6 200.9 68.9 202.5Z" fill="#0010ff" stroke="#0010ff"/>
<path d="M64.5 199 61 192.3 62.1 195.7 65.6 200.9Z" fill="#0040ff" stroke="#0040ff"/>
<path d="M220.6 173.6 130.9 195 118.1 198.1 101.9 202.3 95.4 203.8 92.1 204.5 88.9 204.9 85.6 204.1 86.6 205.1 89.9 205.7 93.2 205.2 96.5 204.5 103 202.9 119.1 198.8 131.9 195.7 221.7 174.2Z" fill="#0000a4" stroke="#0000a4"/>
<path d="M85.6 204.1 82.2 203.4 78.9 203.9 80 204.9 83.3 204.4 86.6 205.1Z" fill="#0000c8" stroke="#0000c8"/>
<path d="M78.9 203.9 75.6 203.9 72.3 203.5 73.3 204.6 76.7 204.9 80 204.9Z" fill="#0000da" stroke="#0000da"/>
<path d="M72.3 203.5 68.9 202.5 70 203.8 73.3 204.6Z" fill="#0000ed" stroke="#0000ed"/>
<path d="M68.9 202.5 65.6 200.9 66.6 202.4 70 203.8Z" fill="#0000ff" stroke="#0000ff"/>
<path d="M65.6 200.9 62.1 195.7 63.2 199 66.6 202.4Z" fill="#0030ff" stroke="#0030ff"/>
<path d="M221.7 174.2 131.9 195.7 115.9 199.6 103 202.9 104 203.6 117 200.3 133 196.4 222.8 174.8Z" fill="#0000a4" stroke="#0000a4"/>
<path d="M103 202.9 96.5 204.5 97.5 205.2 100.8 204.4 104 203.6Z" fill="#000092" stroke="#000092"/>
<path d="M96.5 204.5 93.2 205.2 89.9 205.7 86.6 205.1 87.7 206 91 206.4 94.2 205.9 97.5 205.2Z" fill="#0000a4" stroke="#0000a4"/>
<path d="M86.6 205.1 83.3 204.4 84.3 205.4 87.7 206Z" fill="#0000b6" stroke="#0000b6"/>
<path d="M83.3 204.4 80 204.9 76.7 204.9 77.7 205.9 81 205.8 84.3 205.4Z" fill="#0000c8" stroke="#0000c8"/>
<path d="M76.7 204.9 73.3 204.6 74.4 205.7 77.7 205.9Z" fill="#0000da" stroke="#0000da"/>
<path d="M73.3 204.6 70 203.8 71 205 74.4 205.7Z" fill="#0000ed" stroke="#0000ed"/>
<path d="M70 203.8 66.6 202.4 67.7 203.7 71 205Z" fill="#0000ff" stroke="#0000ff"/>
<path d="M66.6 202.4 63.2 199 64.3 201.7 67.7 203.7Z" fill="#0010ff" stroke="#0010ff"/>
<path d="M222.8 174.8 192.4 182.1 193.5 182.8 223.9 175.4Z" fill="#000092" stroke="#000092"/>
<path d="M192.4 182.1 136.2 195.6 113.7 201.1 114.8 201.8 137.3 196.3 193.5 182.8Z" fill="#0000a4" stroke="#0000a4"/>
<path d="M113.7 201.1 100.8 204.4 94.2 205.9 95.3 206.6 101.8 205 114.8 201.8Z" fill="#000092" stroke="#000092"/>
<path d="M94.2 205.9 91 206.4 87.7 206 88.7 206.9 92 207.1 95.3 206.6Z" fill="#0000a4" stroke="#0000a4"/>
<path d="M87.7 206 84.3 205.4 85.4 206.3 88.7 206.9Z" fill="#0000b6" stroke="#0000b6"/>
<path d="M84.3 205.4 81 205.8 77.7 205.9 78.8 206.9 82.1 206.7 85.4 206.3Z" fill="#0000c8" stroke="#0000c8"/>
<path d="M77.7 205.9 74.4 205.7 75.4 206.7 78.8 206.9Z" fill="#0000da" stroke="#0000da"/>
<path d="M74.4 205.7 71 205 72.1 206.2 75.4 206.7Z" fill="#0000ed" stroke="#0000ed"/>
<path d="M71 205 67.7 203.7 68.7 205.1 72.1 206.2Z" fill="#0000ff" stroke="#0000ff"/>
<path d="M67.7 203.7 64.3 201.7 65.4 203.7 68.7 205.1Z" fill="#0010ff" stroke="#0010ff"/>
<path d="M223.9 175.4 134.1 197 98.6 205.8 95.3 206.6 92 207.1 93.1 207.8 96.3 207.2 99.6 206.4 135.1 197.7 225 176Z" fill="#000092" stroke="#000092"/>
<path d="M92 207.1 88.7 206.9 89.8 207.7 93.1 207.8Z" fill="#0000a4" stroke="#0000a4"/>
<path d="M88.7 206.9 85.4 206.3 82.1 206.7 83.2 207.6 86.5 207.2 89.8 207.7Z" fill="#0000b6" stroke="#0000b6"/>
<path d="M82.1 206.7 78.8 206.9 75.4 206.7 76.5 207.8 79.8 207.8 83.2 207.6Z" fill="#0000c8" stroke="#0000c8"/>
<path d="M75.4 206.7 72.1 206.2 73.2 207.4 76.5 207.8Z" fill="#0000da" stroke="#0000da"/>
<path d="M72.1 206.2 68.7 205.1 69.8 206.7 73.2 207.4Z" fill="#0000ed" stroke="#0000ed"/>
<path d="M68.7 205.1 65.4 203.7 66.4 205.6 69.8 206.7Z" fill="#0000ff" stroke="#0000ff"/>
<path d="M225 176 135.1 197.7 99.6 206.4 96.3 207.2 93.1 207.8 94.1 208.5 97.4 207.8 100.7 207.1 136.2 198.3 226.1 176.6Z" fill="#000092" stroke="#000092"/>
<path d="M93.1 207.8 89.8 207.7 90.8 208.6 94.1 208.5Z" fill="#0000a4" stroke="#0000a4"/>
<path d="M89.8 207.7 86.5 207.2 83.2 207.6 84.2 208.5 87.5 208.2 90.8 208.6Z" fill="#0000b6" stroke="#0000b6"/>
<path d="M83.2 207.6 79.8 207.8 76.5 207.8 77.6 208.7 80.9 208.7 84.2 208.5Z" fill="#0000c8" stroke="#0000c8"/>
<path d="M76.5 207.8 73.2 207.4 74.2 208.6 77.6 208.7Z" fill="#0000da" stroke="#0000da"/>
<path d="M73.2 207.4 69.8 206.7 70.9 208.1 74.2 208.6Z" fill="#0000ed" stroke="#0000ed"/>
<path d="M69.8 206.7 66.4 205.6 67.5 207.4 70.9 208.1Z" fill="#0000ff" stroke="#0000ff"/>
<path d="M226.1 176.6 136.2 198.3 100.7 207.1 97.4 207.8 94.1 208.5 95.2 209.2 98.5 208.5 101.7 207.7 137.3 199 227.2 177.2Z" fill="#000092" stroke="#000092"/>
<path d="M94.1 208.5 90.8 208.6 87.5 208.2 88.6 209.1 91.9 209.4 95.2 209.2Z" fill="#0000a4" stroke="#0000a4"/>
<path d="M87.5 208.2 84.2 208.5 80.9 208.7 81.9 209.6 88.6 209.1Z" fill="#0000b6" stroke="#0000b6"/>
<path d="M80.9 208.7 77.6 208.7 74.2 208.6 75.3 209.6 78.6 209.7 81.9 209.6Z" fill="#0000c8" stroke="#0000c8"/>
<path d="M74.2 208.6 70.9 208.1 71.9 209.3 75.3 209.6Z" fill="#0000da" stroke="#0000da"/>
<path d="M70.9 208.1 67.5 207.4 68.6 209 71.9 209.3Z" fill="#0000ed" stroke="#0000ed"/>
<path d="M227.2 177.2 137.3 199 101.7 207.7 98.5 208.5 95.2 209.2 91.9 209.4 92.9 210.2 96.2 209.8 99.5 209.1 138.4 199.6 228.3 177.8Z" fill="#000092" stroke="#000092"/>
<path d="M91.9 209.4 88.6 209.1 89.6 210.1 92.9 210.2Z" fill="#0000a4" stroke="#0000a4"/>
<path d="M88.6 209.1 81.9 209.6 83 210.4 86.3 210.2 89.6 210.1Z" fill="#0000b6" stroke="#0000b6"/>
<path d="M81.9 209.6 78.6 209.7 75.3 209.6 76.3 210.7 79.7 210.6 83 210.4Z" fill="#0000c8" stroke="#0000c8"/>
<path d="M75.3 209.6 71.9 209.3 73 210.5 76.3 210.7Z" fill="#0000da" stroke="#0000da"/>
<path d="M71.9 209.3 68.6 209 69.6 210.5 73 210.5Z" fill="#0000ed" stroke="#0000ed"/>
<path d="M228.3 177.8 138.4 199.6 102.8 208.3 96.2 209.8 92.9 210.2 94 210.9 97.3 210.5 100.6 209.7 139.4 200.2 229.4 178.4Z" fill="#000092" stroke="#000092"/>
<path d="M92.9 210.2 89.6 210.1 86.3 210.2 87.4 211 90.7 211 94 210.9Z" fill="#0000a4" stroke="#0000a4"/>
<path d="M86.3 210.2 79.7 210.6 80.7 211.5 87.4 211Z" fill="#0000b6" stroke="#0000b6"/>
<path d="M79.7 210.6 76.3 210.7 73 210.5 74 211.6 77.4 211.6 80.7 211.5Z" fill="#0000c8" stroke="#0000c8"/>
<path d="M73 210.5 69.6 210.5 70.7 211.9 74 211.6Z" fill="#0000da" stroke="#0000da"/>
<path d="M229.4 178.4 139.4 200.2 103.9 208.9 97.3 210.5 94 210.9 95.1 211.7 98.4 211.1 101.6 210.3 230.5 179Z" fill="#000092" stroke="#000092"/>
<path d="M94 210.9 90.7 211 87.4 211 88.4 211.9 91.8 212 95.1 211.7Z" fill="#0000a4" stroke="#0000a4"/>
<path d="M87.4 211 80.7 211.5 81.8 212.4 88.4 211.9Z" fill="#0000b6" stroke="#0000b6"/>
<path d="M80.7 211.5 77.4 211.6 74 211.6 75.1 212.6 78.5 212.6 81.8 212.4Z" fill="#0000c8" stroke="#0000c8"/>
<path d="M74 211.6 70.7 211.9 71.8 213.1 75.1 212.6Z" fill="#0000da" stroke="#0000da"/>
<path d="M230.5 179 101.6 210.3 98.4 211.1 95.1 211.7 91.8 212 92.8 212.9 96.1 212.4 99.4 211.7 102.7 211 231.6 179.5Z" fill="#000092" stroke="#000092"/>
<path d="M91.8 212 88.4 211.9 85.1 212.1 86.2 213 89.5 212.7 92.8 212.9Z" fill="#0000a4" stroke="#0000a4"/>
<path d="M85.1 212.1 78.5 212.6 79.5 213.6 86.2 213Z" fill="#0000b6" stroke="#0000b6"/>
<path d="M78.5 212.6 75.1 212.6 71.8 213.1 72.8 214.3 76.2 213.7 79.5 213.6Z" fill="#0000c8" stroke="#0000c8"/>
<path d="M231.6 179.5 102.7 211 99.4 211.7 96.1 212.4 92.8 212.9 93.9 213.8 97.2 213.1 103.8 211.6 232.7 180.1Z" fill="#000092" stroke="#000092"/>
<path d="M92.8 212.9 89.5 212.7 86.2 213 87.2 213.9 90.6 213.6 93.9 213.8Z" fill="#0000a4" stroke="#0000a4"/>
<path d="M86.2 213 79.5 213.6 76.2 213.7 77.2 214.7 80.6 214.6 87.2 213.9Z" fill="#0000b6" stroke="#0000b6"/>
<path d="M76.2 213.7 72.8 214.3 73.9 215.4 77.2 214.7Z" fill="#0000c8" stroke="#0000c8"/>
<path d="M232.7 180.1 103.8 211.6 97.2 213.1 93.9 213.8 95 214.6 101.6 213 233.8 180.7Z" fill="#000092" stroke="#000092"/>
<path d="M93.9 213.8 90.6 213.6 83.9 214.3 85 215.2 91.6 214.4 95 214.6Z" fill="#0000a4" stroke="#0000a4"/>
<path d="M83.9 214.3 80.6 214.6 77.2 214.7 73.9 215.4 74.9 216.5 78.3 215.8 81.6 215.6 85 215.2Z" fill="#0000b6" stroke="#0000b6"/>
<path d="M233.8 180.7 98.3 213.8 95 214.6 91.6 214.4 92.7 215.2 96 215.3 235 181.3Z" fill="#000092" stroke="#000092"/>
<path d="M91.6 214.4 85 215.2 81.6 215.6 82.7 216.7 92.7 215.2Z" fill="#0000a4" stroke="#0000a4"/>
<path d="M81.6 215.6 78.3 215.8 74.9 216.5 76 217.5 79.4 217 82.7 216.7Z" fill="#0000b6" stroke="#0000b6"/>
<path d="M235 181.3 96 215.3 92.7 215.2 93.8 216 97.1 215.9 236.1 181.9Z" fill="#000092" stroke="#000092"/>
<path d="M92.7 215.2 82.7 216.7 79.4 217 80.4 218.3 83.8 217.8 93.8 216Z" fill="#0000a4" stroke="#0000a4"/>
<path d="M79.4 217 76 217.5 77.1 218.5 80.4 218.3Z" fill="#0000b6" stroke="#0000b6"/>
<path d="M236.1 181.9 97.1 215.9 93.8 216 90.4 216.6 91.5 217.4 94.8 216.8 98.2 216.6 237.2 182.4Z" fill="#000092" stroke="#000092"/>
<path d="M90.4 216.6 83.8 217.8 80.4 218.3 77.1 218.5 78.1 219.3 81.5 219.3 84.8 218.8 91.5 217.4Z" fill="#0000a4" stroke="#0000a4"/>
<path d="M237.2 182.4 98.2 216.6 94.8 216.8 84.8 218.8 85.9 219.7 95.9 217.6 99.2 217.2 238.3 183Z" fill="#000092" stroke="#000092"/>
<path d="M84.8 218.8 81.5 219.3 78.1 219.3 79.2 220.2 82.6 220.3 85.9 219.7Z" fill="#0000a4" stroke="#0000a4"/>
<path d="M238.3 183 99.2 217.2 95.9 217.6 85.9 219.7 82.6 220.3 83.6 221.2 87 220.6 97 218.3 100.3 217.8 239.4 183.6Z" fill="#000092" stroke="#000092"/>
<path d="M82.6 220.3 79.2 220.2 80.3 221 83.6 221.2Z" fill="#0000a4" stroke="#0000a4"/>
<path d="M239.4 183.6 100.3 217.8 97 218.3 87 220.6 83.6 221.2 84.7 222.2 98 219.1 101.4 218.4 240.6 184.2Z" fill="#000092" stroke="#000092"/>
<path d="M83.6 221.2 80.3 221 81.3 221.8 84.7 222.2Z" fill="#0000a4" stroke="#0000a4"/>
<path d="M240.6 184.2 101.4 218.4 98 219.1 84.7 222.2 81.3 221.8 82.4 222.6 85.8 223 99.1 219.8 102.4 219 241.7 184.7Z" fill="#000092" stroke="#000092"/>
<path d="M241.7 184.7 102.4 219 99.1 219.8 85.8 223 82.4 222.6 83.5 223.4 86.8 223.8 242.8 185.3Z" fill="#000092" stroke="#000092"/>
<path d="M242.8 185.3 86.8 223.8 83.5 223.4 84.5 224.2 87.9 224.4 244 185.9Z" fill="#000092" stroke="#000092"/>
<path d="M244 185.9 87.9 224.4 84.5 224.2 85.6 225 89 225 245.1 186.4Z" fill="#000092" stroke="#000092"/>
<path d="M245.1 186.4 89 225 85.6 225 86.7 225.7 90.1 225.7 246.2 187Z" fill="#000092" stroke="#000092"/>
<path d="M246.2 187 90.1 225.7 86.7 225.7 87.8 226.6 91.1 226.3 247.3 187.5Z" fill="#000092" stroke="#000092"/>
<path d="M247.3 187.5 91.1 226.3 87.8 226.6 88.8 227.4 92.2 226.9 248.5 188.1Z" fill="#000092" stroke="#000092"/>
<path d="M248.5 188.1 92.2 226.9 88.8 227.4 89.9 228.1 93.3 227.5 249.6 188.7Z" fill="#000092" stroke="#000092"/>
<path d="M249.6 188.7 93.3 227.5 89.9 228.1 91 228.9 94.4 228.1 250.8 189.2Z" fill="#000092" stroke="#000092"/>
<path d="M250.8 189.2 94.4 228.1 91 228.9 92.1 229.5 95.5 228.7 251.9 189.8Z" fill="#000092" stroke="#000092"/>
<path d="M251.9 189.8 92.1 229.5 93.2 230.2 253 190.4Z" fill="#000092" stroke="#000092"/>
<path d="M253 190.4 93.2 230.2 94.3 230.8 254.2 190.9Z" fill="#000092" stroke="#000092"/>
<path d="M254.2 190.9 94.3 230.8 95.3 231.4 255.3 191.5Z" fill="#000080" stroke="#000080"/>
<path d="M255.3 191.5 95.3 231.4 96.4 232.1 256.5 192Z" fill="#000080" stroke="#000080"/>
<path d="M256.5 192 96.4 232.1 97.5 232.7 257.6 192.6Z" fill="#000080" stroke="#000080"/>
<path d="M257.6 192.6 97.5 232.7 98.6 233.3 258.8 193.1Z" fill="#000080" stroke="#000080"/>
<path d="M258.8 193.1 98.6 233.3 99.7 233.9 259.9 193.7Z" fill="#000080" stroke="#000080"/>
<path d="M259.9 193.7 99.7 233.9 100.8 234.5 261.1 194.3Z" fill="#000080" stroke="#000080"/>
<path d="M261.1 194.3 100.8 234.5 101.9 235.2 262.3 194.8Z" fill="#000080" stroke="#000080"/>
<path d="M262.3 194.8 101.9 235.2 103 235.8 263.4 195.4Z" fill="#000080" stroke="#000080"/>
<path d="M263.4 195.4 103 235.8 104.1 236.4 264.6 195.9Z" fill="#000080" stroke="#000080"/>
<path d="M264.6 195.9 104.1 236.4 105.2 237 265.7 196.5Z" fill="#000080" stroke="#000080"/>
<path d="M265.7 196.5 105.2 237 106.3 237.6 266.9 197Z" fill="#000080" stroke="#000080"/>
<path d="M266.9 197 106.3 237.6 107.4 238.3 268.1 197.6Z" fill="#000080" stroke="#000080"/>
<path d="M268.1 197.6 107.4 238.3 108.5 238.9 269.2 198.2Z" fill="#000080" stroke="#000080"/>
<path d="M269.2 198.2 108.5 238.9 109.6 239.5 270.4 198.7Z" fill="#000080" stroke="#000080"/>
<path d="M270.4 198.7 109.6 239.5 110.7 240.1 271.6 199.3Z" fill="#000080" stroke="#000080"/>
<path d="M271.6 199.3 110.7 240.1 111.8 240.8 272.7 199.9Z" fill="#000080" stroke="#000080"/>
<path d="M272.7 199.9 111.8 240.8 112.9 241.4 273.9 200.4Z" fill="#000080" stroke="#000080"/>
<path d="M273.9 200.4 112.9 241.4 114 242 275.1 201Z" fill="#000080" stroke="#000080"/>
<path d="M275.1 201 114 242 115.2 242.6 276.3 201.5Z" fill="#000080" stroke="#000080"/>
<path d="M276.3 201.5 115.2 242.6 116.3 243.3 277.4 202.1Z" fill="#000080" stroke="#000080"/>
<path d="M277.4 202.1 116.3 243.3 117.4 243.9 278.6 202.7Z" fill="#000080" stroke="#000080"/>
<path d="M278.6 202.7 117.4 243.9 118.5 244.5 279.8 203.2Z" fill="#000080" stroke="#000080"/>
<path d="M279.8 203.2 118.5 244.5 119.6 245.2 281 203.8Z" fill="#000080" stroke="#000080"/>
<path d="M281 203.8 119.6 245.2 120.8 245.8 282.2 204.4Z" fill="#000080" stroke="#000080"/>
<path d="M282.2 204.4 120.8 245.8 121.9 246.4 283.4 205Z" fill="#000080" stroke="#000080"/>
<path d="M283.4 205 121.9 246.4 123 247.1 284.6 205.5Z" fill="#000080" stroke="#000080"/>
<path d="M284.6 205.5 123 247.1 124.2 247.7 285.8 206.1Z" fill="#000080" stroke="#000080"/>
<path d="M285.8 206.1 124.2 247.7 125.3 248.3 286.9 206.7Z" fill="#000080" stroke="#000080"/>
<path d="M286.9 206.7 125.3 248.3 126.4 249 288.1 207.2Z" fill="#000080" stroke="#000080"/>
<path d="M288.1 207.2 126.4 249 127.6 249.6 289.3 207.8Z" fill="#000080" stroke="#000080"/>
<path d="M289.3 207.8 127.6 249.6 128.7 250.3 290.5 208.4Z" fill="#000080" stroke="#000080"/>
<path d="M290.5 208.4 128.7 250.3 129.8 250.9 291.7 209Z" fill="#000080" stroke="#000080"/>
<path d="M291.7 209 129.8 250.9 131 251.5 292.9 209.5Z" fill="#000080" stroke="#000080"/>
<path d="M292.9 209.5 131 251.5 132.1 252.2 294.1 210.1Z" fill="#000080" stroke="#000080"/>
<path d="M294.1 210.1 132.1 252.2 133.3 252.8 295.3 210.7Z" fill="#000080" stroke="#000080"/>
<path d="M295.3 210.7 133.3 252.8 134.4 253.5 296.6 211.3Z" fill="#000080" stroke="#000080"/>
<path d="M296.6 211.3 134.4 253.5 135.6 254.1 297.8 211.9Z" fill="#000080" stroke="#000080"/>
<path d="M297.8 211.9 135.6 254.1 136.7 254.8 299 212.4Z" fill="#000080" stroke="#000080"/>
<path d="M299 212.4 136.7 254.8 137.9 255.4 300.2 213Z" fill="#000080" stroke="#000080"/>
<path d="M300.2 213 137.9 255.4 139 256.1 301.4 213.6Z" fill="#000080" stroke="#000080"/>
<path d="M301.4 213.6 139 256.1 140.2 256.7 302.6 214.2Z" fill="#000080" stroke="#000080"/>
<path d="M302.6 214.2 140.2 256.7 141.3 257.3 303.8 214.8Z" fill="#000080" stroke="#000080"/>
<path d="M303.8 214.8 141.3 257.3 142.5 258 305.1 215.3Z" fill="#000080" stroke="#000080"/>
<path d="M305.1 215.3 142.5 258 143.6 258.7 306.3 215.9Z" fill="#000080" stroke="#000080"/>
<path d="M306.3 215.9 143.6 258.7 144.8 259.3 307.5 216.5Z" fill="#000080" stroke="#000080"/>
<path d="M307.5 216.5 144.8 259.3 146 260 308.7 217.1Z" fill="#000080" stroke="#000080"/>
<path d="M308.7 217.1 146 260 147.1 260.6 310 217.7Z" fill="#000080" stroke="#000080"/>
<path d="M310 217.7 147.1 260.6 148.3 261.3 311.2 218.3Z" fill="#000080" stroke="#000080"/>
<path d="M311.2 218.3 148.3 261.3 149.5 261.9 312.4 218.9Z" fill="#000080" stroke="#000080"/>
<path d="M312.4 218.9 149.5 261.9 150.7 262.6 313.7 219.4Z" fill="#000080" stroke="#000080"/>
<path d="M313.7 219.4 150.7 262.6 151.8 263.2 314.9 220Z" fill="#000080" stroke="#000080"/>
</g>
<line x1="147.9" y1="300.7" x2="335.1" y2="248.8" stroke="#b8b8b4" stroke-width="0.7"/>
<line x1="147.9" y1="300.7" x2="23.8" y2="228.6" stroke="#b8b8b4" stroke-width="0.7"/>
<line x1="335.1" y1="248.8" x2="339.7" y2="86.3" stroke="#b8b8b4" stroke-width="0.7"/>
<line x1="163.7" y1="298.7" x2="159.5" y2="296.3" stroke="#1a1a1a" stroke-width="1.3" stroke-linecap="butt"/>
<text x="166.2" y="312.90" font-size="6.59" text-anchor="middle" textLength="16.5" lengthAdjust="spacingAndGlyphs" fill="#262626" stroke="#262626" stroke-width="0.16">Q2_K</text>
<line x1="192.1" y1="290.8" x2="187.9" y2="288.4" stroke="#1a1a1a" stroke-width="1.3" stroke-linecap="butt"/>
<text x="194.6" y="304.79" font-size="6.59" text-anchor="middle" textLength="25.2" lengthAdjust="spacingAndGlyphs" fill="#262626" stroke="#262626" stroke-width="0.16">Q3_K_M</text>
<line x1="219.9" y1="283.1" x2="215.8" y2="280.7" stroke="#1a1a1a" stroke-width="1.3" stroke-linecap="butt"/>
<text x="222.5" y="296.82" font-size="6.59" text-anchor="middle" textLength="25.2" lengthAdjust="spacingAndGlyphs" fill="#262626" stroke="#262626" stroke-width="0.16">Q4_K_M</text>
<line x1="247.3" y1="275.5" x2="243.1" y2="273.1" stroke="#1a1a1a" stroke-width="1.3" stroke-linecap="butt"/>
<text x="249.8" y="289.00" font-size="6.59" text-anchor="middle" textLength="25.2" lengthAdjust="spacingAndGlyphs" fill="#262626" stroke="#262626" stroke-width="0.16">Q5_K_M</text>
<line x1="274.1" y1="268.1" x2="270" y2="265.7" stroke="#1a1a1a" stroke-width="1.3" stroke-linecap="butt"/>
<text x="276.7" y="281.31" font-size="6.59" text-anchor="middle" textLength="16.5" lengthAdjust="spacingAndGlyphs" fill="#262626" stroke="#262626" stroke-width="0.16">Q6_K</text>
<line x1="300.5" y1="260.8" x2="296.4" y2="258.4" stroke="#1a1a1a" stroke-width="1.3" stroke-linecap="butt"/>
<text x="303" y="273.76" font-size="6.59" text-anchor="middle" textLength="16.4" lengthAdjust="spacingAndGlyphs" fill="#262626" stroke="#262626" stroke-width="0.16">Q8_0</text>
<line x1="326.4" y1="253.6" x2="322.2" y2="251.2" stroke="#1a1a1a" stroke-width="1.3" stroke-linecap="butt"/>
<text x="328.9" y="266.34" font-size="6.59" text-anchor="middle" textLength="11.8" lengthAdjust="spacingAndGlyphs" fill="#262626" stroke="#262626" stroke-width="0.16">F16</text>
<line x1="135.6" y1="296.4" x2="140.7" y2="295" stroke="#1a1a1a" stroke-width="1.3" stroke-linecap="butt"/>
<text x="131.8" y="314.26" font-size="11.23" text-anchor="middle" textLength="6.9" lengthAdjust="spacingAndGlyphs" fill="#262626" stroke="#262626" stroke-width="0.16">0</text>
<line x1="112.7" y1="283.2" x2="117.8" y2="281.7" stroke="#1a1a1a" stroke-width="1.3" stroke-linecap="butt"/>
<text x="108.9" y="300.49" font-size="11.23" text-anchor="middle" textLength="6.9" lengthAdjust="spacingAndGlyphs" fill="#262626" stroke="#262626" stroke-width="0.16">5</text>
<line x1="90.5" y1="270.3" x2="95.6" y2="268.9" stroke="#1a1a1a" stroke-width="1.3" stroke-linecap="butt"/>
<text x="86.8" y="287.13" font-size="11.23" text-anchor="middle" textLength="13.9" lengthAdjust="spacingAndGlyphs" fill="#262626" stroke="#262626" stroke-width="0.16">10</text>
<line x1="77.5" y1="262.7" x2="82.6" y2="261.3" stroke="#1a1a1a" stroke-width="1.3" stroke-linecap="butt"/>
<text x="73.8" y="279.31" font-size="11.23" text-anchor="middle" textLength="13.9" lengthAdjust="spacingAndGlyphs" fill="#262626" stroke="#262626" stroke-width="0.16">13</text>
<line x1="69" y1="257.8" x2="74.1" y2="256.4" stroke="#1a1a1a" stroke-width="1.3" stroke-linecap="butt"/>
<text x="65.2" y="274.17" font-size="11.23" text-anchor="middle" textLength="13.9" lengthAdjust="spacingAndGlyphs" fill="#262626" stroke="#262626" stroke-width="0.16">15</text>
<line x1="60.6" y1="252.9" x2="65.7" y2="251.5" stroke="#1a1a1a" stroke-width="1.3" stroke-linecap="butt"/>
<text x="56.8" y="269.09" font-size="11.23" text-anchor="middle" textLength="13.9" lengthAdjust="spacingAndGlyphs" fill="#262626" stroke="#262626" stroke-width="0.16">17</text>
<line x1="48.1" y1="245.7" x2="53.2" y2="244.3" stroke="#1a1a1a" stroke-width="1.3" stroke-linecap="butt"/>
<text x="44.4" y="261.59" font-size="11.23" text-anchor="middle" textLength="13.9" lengthAdjust="spacingAndGlyphs" fill="#262626" stroke="#262626" stroke-width="0.16">20</text>
<line x1="35.9" y1="238.6" x2="41" y2="237.2" stroke="#1a1a1a" stroke-width="1.3" stroke-linecap="butt"/>
<text x="32.2" y="254.21" font-size="11.23" text-anchor="middle" textLength="13.9" lengthAdjust="spacingAndGlyphs" fill="#262626" stroke="#262626" stroke-width="0.16">23</text>
<line x1="27.9" y1="233.9" x2="33" y2="232.5" stroke="#1a1a1a" stroke-width="1.3" stroke-linecap="butt"/>
<text x="24.2" y="249.37" font-size="11.23" text-anchor="middle" textLength="13.9" lengthAdjust="spacingAndGlyphs" fill="#262626" stroke="#262626" stroke-width="0.16">25</text>
<line x1="338.5" y1="247.1" x2="333.7" y2="244.8" stroke="#1a1a1a" stroke-width="1.3" stroke-linecap="butt"/>
<text x="348.6" y="253.92" font-size="11.23" text-anchor="middle" textLength="23.0" lengthAdjust="spacingAndGlyphs" fill="#262626" stroke="#262626" stroke-width="0.16">−20</text>
<line x1="339" y1="228.8" x2="334.2" y2="226.5" stroke="#1a1a1a" stroke-width="1.3" stroke-linecap="butt"/>
<text x="349.1" y="235.88" font-size="11.23" text-anchor="middle" textLength="6.9" lengthAdjust="spacingAndGlyphs" fill="#262626" stroke="#262626" stroke-width="0.16">0</text>
<line x1="339.5" y1="210.4" x2="334.7" y2="208.1" stroke="#1a1a1a" stroke-width="1.3" stroke-linecap="butt"/>
<text x="349.7" y="217.73" font-size="11.23" text-anchor="middle" textLength="13.9" lengthAdjust="spacingAndGlyphs" fill="#262626" stroke="#262626" stroke-width="0.16">20</text>
<line x1="340" y1="191.9" x2="335.3" y2="189.6" stroke="#1a1a1a" stroke-width="1.3" stroke-linecap="butt"/>
<text x="350.2" y="199.45" font-size="11.23" text-anchor="middle" textLength="13.9" lengthAdjust="spacingAndGlyphs" fill="#262626" stroke="#262626" stroke-width="0.16">40</text>
<line x1="340.6" y1="173.3" x2="335.8" y2="171" stroke="#1a1a1a" stroke-width="1.3" stroke-linecap="butt"/>
<text x="350.7" y="181.05" font-size="11.23" text-anchor="middle" textLength="13.9" lengthAdjust="spacingAndGlyphs" fill="#262626" stroke="#262626" stroke-width="0.16">60</text>
<line x1="341.1" y1="154.5" x2="336.3" y2="152.2" stroke="#1a1a1a" stroke-width="1.3" stroke-linecap="butt"/>
<text x="351.2" y="162.52" font-size="11.23" text-anchor="middle" textLength="13.9" lengthAdjust="spacingAndGlyphs" fill="#262626" stroke="#262626" stroke-width="0.16">80</text>
<line x1="341.6" y1="135.6" x2="336.9" y2="133.3" stroke="#1a1a1a" stroke-width="1.3" stroke-linecap="butt"/>
<text x="351.8" y="143.87" font-size="11.23" text-anchor="middle" textLength="20.8" lengthAdjust="spacingAndGlyphs" fill="#262626" stroke="#262626" stroke-width="0.16">100</text>
<line x1="342.2" y1="116.6" x2="337.4" y2="114.3" stroke="#1a1a1a" stroke-width="1.3" stroke-linecap="butt"/>
<text x="352.3" y="125.10" font-size="11.23" text-anchor="middle" textLength="20.8" lengthAdjust="spacingAndGlyphs" fill="#262626" stroke="#262626" stroke-width="0.16">120</text>
<line x1="342.7" y1="97.5" x2="337.9" y2="95.2" stroke="#1a1a1a" stroke-width="1.3" stroke-linecap="butt"/>
<text x="352.9" y="106.19" font-size="11.23" text-anchor="middle" textLength="20.8" lengthAdjust="spacingAndGlyphs" fill="#262626" stroke="#262626" stroke-width="0.16">140</text>
</g>
<text x="62.2" y="288.66" font-size="7.52" font-weight="bold" text-anchor="middle" textLength="144.5" lengthAdjust="spacingAndGlyphs" fill="#262626" stroke="#262626" stroke-width="0.1" transform="rotate(30.7 62.2 286)">Low-Rank Decomposition Ratio (%)</text>
<text x="260" y="303.36" font-size="7.52" font-weight="bold" text-anchor="middle" textLength="67.0" lengthAdjust="spacingAndGlyphs" fill="#262626" stroke="#262626" stroke-width="0.1" transform="rotate(-15.9 260 300.7)">Quantization Bit</text>
<text x="367.7" y="173.43" font-size="7.42" font-weight="bold" text-anchor="middle" textLength="65.7" lengthAdjust="spacingAndGlyphs" fill="#262626" stroke="#262626" stroke-width="0.1" transform="rotate(-90 367.7 170.8)">Perplexity (PPL)</text>
<text x="173" y="15.33" font-size="8.84" font-weight="bold" text-anchor="middle" textLength="163.8" lengthAdjust="spacingAndGlyphs" fill="#262626" stroke="#262626" stroke-width="0.1">3-D Contour-Surface of Perplexity</text>
<g id="ax2d">
<path d="M428 301.6 611.2 301.6 611.2 26.6 427.6 26.6 427.6 301.6 428 301.6Z" fill="#3333c5"/>
<path d="M611.2 124.5 611.2 26.6 427.6 26.6 427.6 62.9 443.3 63.1 467.6 63.7 493.3 64.8 515.2 65.9 525.5 66.1 533.9 66.2 538.1 66 544.3 65.6 548.1 65.3 550.8 65 553.8 64.3 562.2 61.8 566.1 60.6 567.5 60.3 568.7 60.1 569.9 60 571 60 573.8 60.3 575.3 60.6 576.4 61.1 577.2 61.5 577.9 62.2 579.1 63.5 580.2 65.5 581.4 68.2 582.1 70.6 582.9 73.5 585.4 84.7 586.6 89.2 587.9 92.9 588.6 94.7 589.7 96.7 590.9 98.9 592.5 101.2 598.4 109.1 608.9 122.2 610.1 123.5 611.2 124.5Z" fill="#3347ff"/>
<path d="M611.2 76.2 611.2 26.6 427.6 26.6 427.6 49.1 478.9 48.7 521.3 48.1 535.8 48.1 546.9 48.2 555 48.4 561.9 48.8 567.2 49.4 570.7 50 575.2 51 579.2 52 582.7 53.1 586.8 54.4 590.5 55.8 593.5 57.2 596 58.6 598.5 60.3 600.2 61.7 602.4 63.7 603.9 65.4 605.5 67.3 607.4 69.9 609.3 72.9 611.2 76.2Z" fill="#339aff"/>
<path d="M611.2 67.3 611.2 26.6 427.6 26.6 427.6 40.4 498 40.4 518.6 40.6 539.7 41 551.9 41.6 561.1 42.2 566.4 42.8 572.2 43.6 577.2 44.3 580.6 44.9 582.1 45.3 583.7 45.8 586 46.8 594.8 52 598.2 54.3 601.6 57 604.7 59.9 607.3 62.7 611.2 67.3Z" fill="#33eaf9"/>
<path d="M611.2 61.1 611.2 26.6 427.6 26.6 427.6 34.3 460.9 34.4 493.4 34.6 508.7 34.9 532 35.5 548.1 36.1 558.8 36.7 568.7 37.7 573.7 38.3 577.8 39 580.8 39.7 583.1 40.4 585.2 41 587.9 42.1 590.3 43.1 592.4 44.1 594.4 45.2 596.7 46.6 598.2 47.7 599.8 48.9 601.6 50.5 603.2 52 605.5 54.4 609.3 59 611.2 61.1Z" fill="#75ffb6"/>
<path d="M611.2 56.2 611.2 26.6 427.6 26.6 427.6 29.4 447.9 29.4 470.8 29.6 490.7 29.9 501 30.2 551.9 32.7 556.1 33 560.6 33.5 570.3 34.9 578.7 36.3 581.7 37 584.4 37.7 587.1 38.5 589.8 39.5 592.1 40.4 594.8 41.7 596.7 42.8 598.3 43.8 600.1 45.1 602 46.8 605 49.6 609.3 54.2 611.2 56.2Z" fill="#b6ff75"/>
<path d="M611.2 51.9 611.2 26.6 533.2 26.6 537.8 27.6 542.4 28.4 561.1 30.9 568.4 32 574.9 33 582.1 34.4 584.8 35 587.1 35.7 590.2 36.9 593.2 38.2 595.9 39.6 598.2 41 600.5 42.6 602.8 44.5 611.2 51.9Z" fill="#f9f733"/>
<path d="M611.2 48.5 611.2 26.6 554.6 26.6 568.9 29 579.7 31.1 582.8 31.8 586 32.6 588.8 33.5 591.8 34.5 594.3 35.5 596.7 36.7 598.9 37.9 600.9 39.3 603.2 41 605.1 42.7 611.2 48.5Z" fill="#ffaa33"/>
<path d="M611.2 45.2 611.2 26.6 565.9 26.6 576.4 28.3 583.3 29.7 586.7 30.5 589.9 31.4 592.5 32.2 594.9 33.1 596.7 33.9 598.6 34.9 600.7 36.2 602.6 37.6 606 40.4 611.2 45.2Z" fill="#ff6033"/>
<path d="M611.2 42.5 611.2 26.6 575.1 26.6 577.9 27 582.1 27.6 587.5 28.8 592.5 30.1 594.8 30.9 596.7 31.7 598.6 32.7 600.1 33.5 603.6 35.9 606.6 38.3 611.2 42.5Z" fill="#c53333"/>
<path d="M611.2 39.8 611.2 26.6 583 26.6 586.4 26.9 589.9 27.6 594.7 29 596.6 29.7 598.2 30.4 601.3 32 604.5 34.2 607.4 36.4 611.2 39.8Z" fill="#993333"/>
<path d="M611.2 36.5 611.2 26.6 590.3 26.6 593.8 27.3 596.3 28 599 28.9 601.3 29.9 603.6 31.1 606.4 32.8 608.7 34.5 611.2 36.5Z" fill="#993333"/>
<path d="M610.8 33.5 611.2 33.8 611.2 26.6 595.9 26.6 598.2 27.1 600.2 27.6 602.2 28.3 603.8 29 605.8 30 607.4 31 610.8 33.5Z" fill="#993333"/>
<path d="M610.8 30.8 611.2 31.1 611.2 26.6 601.4 26.6 604.3 27.5 606.6 28.4 608.5 29.4 610.8 30.8Z" fill="#993333"/>
<path d="M610.8 28.7 611.2 28.9 611.2 26.6 606.6 26.6 608.9 27.6 610.8 28.7Z" fill="#993333"/>
<path d="M427.6 62.9 486.5 64.5 543.5 65.7 556.5 63.5 572.2 60.1 577.7 62 581.5 68.5 599.2 110.1 611.2 124.5" fill="none" stroke="#000" stroke-opacity="0.5" stroke-width="0.5"/>
<path d="M427.6 49.1 569.1 49.7 586 54.1 598.6 60.3 607.1 69.6 611.2 76.2" fill="none" stroke="#000" stroke-opacity="0.5" stroke-width="0.5"/>
<path d="M427.6 40.4 551.9 41.6 576.4 44.2 586.3 47 603.7 58.9 611.2 67.3" fill="none" stroke="#000" stroke-opacity="0.5" stroke-width="0.5"/>
<path d="M427.6 34.3 532 35.5 571.4 38 585.6 41.2 597.6 47.2 607.8 57.2 611.2 61.1" fill="none" stroke="#000" stroke-opacity="0.5" stroke-width="0.5"/>
<path d="M427.6 29.4 509.1 30.6 569.1 34.7 589 39.2 599.7 44.8 611.2 56.2" fill="none" stroke="#000" stroke-opacity="0.5" stroke-width="0.5"/>
<path d="M533.2 26.6 589.4 36.6 600.2 42.4 611.2 51.9" fill="none" stroke="#000" stroke-opacity="0.5" stroke-width="0.5"/>
<path d="M554.6 26.6 595.1 35.9 604.8 42.4 611.2 48.5" fill="none" stroke="#000" stroke-opacity="0.5" stroke-width="0.5"/>
<path d="M565.9 26.6 592.5 32.2 602.2 37.3 611.2 45.2" fill="none" stroke="#000" stroke-opacity="0.5" stroke-width="0.5"/>
<path d="M575.1 26.6 595.1 31.1 604.5 36.6 611.2 42.5" fill="none" stroke="#000" stroke-opacity="0.5" stroke-width="0.5"/>
<path d="M583 26.6 586.4 26.9 589.9 27.6 594.7 29 596.6 29.7 598.2 30.4 601.3 32 604.5 34.2 607.4 36.4 611.2 39.8" fill="none" stroke="#000" stroke-opacity="0.5" stroke-width="0.5"/>
<path d="M590.3 26.6 593.8 27.3 596.3 28 599 28.9 601.3 29.9 603.6 31.1 606.4 32.8 608.7 34.5 611.2 36.5" fill="none" stroke="#000" stroke-opacity="0.5" stroke-width="0.5"/>
<path d="M595.9 26.6 598.2 27.1 600.2 27.6 602.2 28.3 603.8 29 605.8 30 607.5 31.1 609.3 32.3 611.2 33.8" fill="none" stroke="#000" stroke-opacity="0.5" stroke-width="0.5"/>
<path d="M601.4 26.6 604.3 27.5 606.6 28.4 608.9 29.6 611.2 31.1" fill="none" stroke="#000" stroke-opacity="0.5" stroke-width="0.5"/>
<path d="M606.6 26.6 609.3 27.8 611.2 28.9" fill="none" stroke="#000" stroke-opacity="0.5" stroke-width="0.5"/>
<g stroke="#ffffff" stroke-opacity="0.13" stroke-width="0.6" stroke-dasharray="2.6 1.2">
<line x1="427.6" y1="15.5" x2="427.6" y2="312.4"/>
<line x1="458.2" y1="15.5" x2="458.2" y2="312.4"/>
<line x1="488.8" y1="15.5" x2="488.8" y2="312.4"/>
<line x1="519.4" y1="15.5" x2="519.4" y2="312.4"/>
<line x1="550" y1="15.5" x2="550" y2="312.4"/>
<line x1="580.6" y1="15.5" x2="580.6" y2="312.4"/>
<line x1="611.2" y1="15.5" x2="611.2" y2="312.4"/>
<line x1="424.3" y1="301.6" x2="615.1" y2="301.6"/>
<line x1="424.3" y1="246.6" x2="615.1" y2="246.6"/>
<line x1="424.3" y1="191.6" x2="615.1" y2="191.6"/>
<line x1="424.3" y1="158.6" x2="615.1" y2="158.6"/>
<line x1="424.3" y1="136.6" x2="615.1" y2="136.6"/>
<line x1="424.3" y1="114.6" x2="615.1" y2="114.6"/>
<line x1="424.3" y1="81.6" x2="615.1" y2="81.6"/>
<line x1="424.3" y1="48.6" x2="615.1" y2="48.6"/>
<line x1="424.3" y1="26.6" x2="615.1" y2="26.6"/>
</g>
<g stroke="#b0b0b0" stroke-opacity="0.3" stroke-width="0.6" stroke-dasharray="2.6 1.2">
<line x1="427.6" y1="15.5" x2="427.6" y2="26.6"/>
<line x1="427.6" y1="301.6" x2="427.6" y2="312.4"/>
<line x1="458.2" y1="15.5" x2="458.2" y2="26.6"/>
<line x1="458.2" y1="301.6" x2="458.2" y2="312.4"/>
<line x1="488.8" y1="15.5" x2="488.8" y2="26.6"/>
<line x1="488.8" y1="301.6" x2="488.8" y2="312.4"/>
<line x1="519.4" y1="15.5" x2="519.4" y2="26.6"/>
<line x1="519.4" y1="301.6" x2="519.4" y2="312.4"/>
<line x1="550" y1="15.5" x2="550" y2="26.6"/>
<line x1="550" y1="301.6" x2="550" y2="312.4"/>
<line x1="580.6" y1="15.5" x2="580.6" y2="26.6"/>
<line x1="580.6" y1="301.6" x2="580.6" y2="312.4"/>
<line x1="611.2" y1="15.5" x2="611.2" y2="26.6"/>
<line x1="611.2" y1="301.6" x2="611.2" y2="312.4"/>
</g>
<rect x="424.3" y="15.5" width="190.8" height="296.9" fill="none" stroke="#cccccc" stroke-width="0.9"/>
<polyline points="430.9,106.9 442.5,106.5 453.4,106.7 462.1,107 472.2,107.3 483.7,107.7 494.6,107.7 506,107.7 517.4,107.7 528.5,109 536.5,110.2 547.3,111.4 558.4,111.3 569.9,112 577.2,114.5 582.8,118.6 587.6,124.2 591.8,129.5 595.9,134.7 599.8,140 603.9,147.3 606,154 606.9,160 608,165.6 610.5,173.3" fill="none" stroke="#ff8412" stroke-width="1.6" stroke-linejoin="round"/>
<polygon points="430.9,104.2 431.5,106.1 433.5,106.1 431.9,107.2 432.5,109.1 430.9,108.0 429.3,109.1 429.9,107.2 428.3,106.1 430.3,106.1" fill="#ff8412" stroke="#ff8412" stroke-width="0.5" stroke-linejoin="miter"/>
<polygon points="442.5,103.8 443.1,105.7 445.1,105.7 443.5,106.8 444.1,108.7 442.5,107.5 440.9,108.7 441.5,106.8 439.9,105.7 441.9,105.7" fill="#ff8412" stroke="#ff8412" stroke-width="0.5" stroke-linejoin="miter"/>
<polygon points="453.4,104.0 454.0,105.9 456.0,105.9 454.4,107.0 455.0,108.9 453.4,107.8 451.8,108.9 452.4,107.0 450.8,105.9 452.8,105.9" fill="#ff8412" stroke="#ff8412" stroke-width="0.5" stroke-linejoin="miter"/>
<polygon points="462.1,104.3 462.7,106.2 464.7,106.2 463.1,107.3 463.7,109.2 462.1,108.0 460.5,109.2 461.1,107.3 459.5,106.2 461.5,106.2" fill="#ff8412" stroke="#ff8412" stroke-width="0.5" stroke-linejoin="miter"/>
<polygon points="472.2,104.6 472.8,106.5 474.8,106.5 473.2,107.6 473.8,109.5 472.2,108.3 470.6,109.5 471.2,107.6 469.6,106.5 471.6,106.5" fill="#ff8412" stroke="#ff8412" stroke-width="0.5" stroke-linejoin="miter"/>
<polygon points="483.7,105.0 484.3,106.9 486.3,106.9 484.7,108.0 485.3,109.9 483.7,108.8 482.1,109.9 482.7,108.0 481.1,106.9 483.1,106.9" fill="#ff8412" stroke="#ff8412" stroke-width="0.5" stroke-linejoin="miter"/>
<polygon points="494.6,105.0 495.2,106.9 497.2,106.9 495.6,108.0 496.2,109.9 494.6,108.8 493.0,109.9 493.6,108.0 492.0,106.9 494.0,106.9" fill="#ff8412" stroke="#ff8412" stroke-width="0.5" stroke-linejoin="miter"/>
<polygon points="506.0,105.0 506.6,106.9 508.6,106.9 507.0,108.0 507.6,109.9 506.0,108.8 504.4,109.9 505.0,108.0 503.4,106.9 505.4,106.9" fill="#ff8412" stroke="#ff8412" stroke-width="0.5" stroke-linejoin="miter"/>
<polygon points="517.4,105.0 518.0,106.9 520.0,106.9 518.4,108.0 519.0,109.9 517.4,108.8 515.8,109.9 516.4,108.0 514.8,106.9 516.8,106.9" fill="#ff8412" stroke="#ff8412" stroke-width="0.5" stroke-linejoin="miter"/>
<polygon points="528.5,106.3 529.1,108.2 531.1,108.2 529.5,109.3 530.1,111.2 528.5,110.0 526.9,111.2 527.5,109.3 525.9,108.2 527.9,108.2" fill="#ff8412" stroke="#ff8412" stroke-width="0.5" stroke-linejoin="miter"/>
<polygon points="536.5,107.5 537.1,109.4 539.1,109.4 537.5,110.5 538.1,112.4 536.5,111.2 534.9,112.4 535.5,110.5 533.9,109.4 535.9,109.4" fill="#ff8412" stroke="#ff8412" stroke-width="0.5" stroke-linejoin="miter"/>
<polygon points="547.3,108.7 547.9,110.6 549.9,110.6 548.3,111.7 548.9,113.6 547.3,112.5 545.7,113.6 546.3,111.7 544.7,110.6 546.7,110.6" fill="#ff8412" stroke="#ff8412" stroke-width="0.5" stroke-linejoin="miter"/>
<polygon points="558.4,108.6 559.0,110.5 561.0,110.5 559.4,111.6 560.0,113.5 558.4,112.3 556.8,113.5 557.4,111.6 555.8,110.5 557.8,110.5" fill="#ff8412" stroke="#ff8412" stroke-width="0.5" stroke-linejoin="miter"/>
<polygon points="569.9,109.3 570.5,111.2 572.5,111.2 570.9,112.3 571.5,114.2 569.9,113.0 568.3,114.2 568.9,112.3 567.3,111.2 569.3,111.2" fill="#ff8412" stroke="#ff8412" stroke-width="0.5" stroke-linejoin="miter"/>
<polygon points="577.2,111.8 577.8,113.7 579.8,113.7 578.2,114.8 578.8,116.7 577.2,115.5 575.6,116.7 576.2,114.8 574.6,113.7 576.6,113.7" fill="#ff8412" stroke="#ff8412" stroke-width="0.5" stroke-linejoin="miter"/>
<polygon points="582.8,115.9 583.4,117.8 585.4,117.8 583.8,118.9 584.4,120.8 582.8,119.6 581.2,120.8 581.8,118.9 580.2,117.8 582.2,117.8" fill="#ff8412" stroke="#ff8412" stroke-width="0.5" stroke-linejoin="miter"/>
<polygon points="587.6,121.5 588.2,123.4 590.2,123.4 588.6,124.5 589.2,126.4 587.6,125.2 586.0,126.4 586.6,124.5 585.0,123.4 587.0,123.4" fill="#ff8412" stroke="#ff8412" stroke-width="0.5" stroke-linejoin="miter"/>
<polygon points="591.8,126.8 592.4,128.7 594.4,128.7 592.8,129.8 593.4,131.7 591.8,130.6 590.2,131.7 590.8,129.8 589.2,128.7 591.2,128.7" fill="#ff8412" stroke="#ff8412" stroke-width="0.5" stroke-linejoin="miter"/>
<polygon points="595.9,132.0 596.5,133.9 598.5,133.9 596.9,135.0 597.5,136.9 595.9,135.8 594.3,136.9 594.9,135.0 593.3,133.9 595.3,133.9" fill="#ff8412" stroke="#ff8412" stroke-width="0.5" stroke-linejoin="miter"/>
<polygon points="599.8,137.3 600.4,139.2 602.4,139.2 600.8,140.3 601.4,142.2 599.8,141.1 598.2,142.2 598.8,140.3 597.2,139.2 599.2,139.2" fill="#ff8412" stroke="#ff8412" stroke-width="0.5" stroke-linejoin="miter"/>
<polygon points="603.9,144.6 604.5,146.5 606.5,146.5 604.9,147.6 605.5,149.5 603.9,148.4 602.3,149.5 602.9,147.6 601.3,146.5 603.3,146.5" fill="#ff8412" stroke="#ff8412" stroke-width="0.5" stroke-linejoin="miter"/>
<polygon points="606.0,151.3 606.6,153.2 608.6,153.2 607.0,154.3 607.6,156.2 606.0,155.1 604.4,156.2 605.0,154.3 603.4,153.2 605.4,153.2" fill="#ff8412" stroke="#ff8412" stroke-width="0.5" stroke-linejoin="miter"/>
<polygon points="606.9,157.3 607.5,159.2 609.5,159.2 607.9,160.3 608.5,162.2 606.9,161.1 605.3,162.2 605.9,160.3 604.3,159.2 606.3,159.2" fill="#ff8412" stroke="#ff8412" stroke-width="0.5" stroke-linejoin="miter"/>
<polygon points="608.0,162.9 608.6,164.8 610.6,164.8 609.0,165.9 609.6,167.8 608.0,166.7 606.4,167.8 607.0,165.9 605.4,164.8 607.4,164.8" fill="#ff8412" stroke="#ff8412" stroke-width="0.5" stroke-linejoin="miter"/>
<polygon points="610.5,170.6 611.1,172.5 613.1,172.5 611.5,173.6 612.1,175.5 610.5,174.4 608.9,175.5 609.5,173.6 607.9,172.5 609.9,172.5" fill="#ff8412" stroke="#ff8412" stroke-width="0.5" stroke-linejoin="miter"/>
<polyline points="427.6,301.6 458.2,301.6 488.8,301.6 519.4,301.6 550,301.6 580.6,301.6 580.6,246.6 611.2,301.6 611.2,246.6 611.2,191.6 611.2,158.6 611.2,136.6 611.2,114.6 611.2,81.6 611.2,48.6 611.2,26.6" fill="none" stroke="#d24a4a" stroke-width="1.25" stroke-linejoin="round"/>
<line x1="427.6" y1="296.6" x2="427.6" y2="300.1" stroke="#3b4a6b" stroke-width="0.9"/>
<rect x="415.2" y="288.7" width="24.7" height="8.2" rx="1.5" ry="1.5" fill="#dde1ec" stroke="#44598a" stroke-width="0.75"/>
<text x="427.6" y="294.97" font-size="5.84" text-anchor="middle" textLength="21.6" lengthAdjust="spacingAndGlyphs" fill="#1f1f1f" stroke="#1f1f1f" stroke-width="0.16">100.0%</text>
<line x1="458.2" y1="296.6" x2="458.2" y2="300.1" stroke="#3b4a6b" stroke-width="0.9"/>
<rect x="447.6" y="288.7" width="21.1" height="8.2" rx="1.5" ry="1.5" fill="#dde1ec" stroke="#44598a" stroke-width="0.75"/>
<text x="458.2" y="294.97" font-size="5.84" text-anchor="middle" textLength="18.0" lengthAdjust="spacingAndGlyphs" fill="#1f1f1f" stroke="#1f1f1f" stroke-width="0.16">53.0%</text>
<line x1="488.8" y1="296.6" x2="488.8" y2="300.1" stroke="#3b4a6b" stroke-width="0.9"/>
<rect x="478.2" y="288.7" width="21.1" height="8.2" rx="1.5" ry="1.5" fill="#dde1ec" stroke="#44598a" stroke-width="0.75"/>
<text x="488.8" y="294.97" font-size="5.84" text-anchor="middle" textLength="18.0" lengthAdjust="spacingAndGlyphs" fill="#1f1f1f" stroke="#1f1f1f" stroke-width="0.16">41.0%</text>
<line x1="519.4" y1="296.6" x2="519.4" y2="300.1" stroke="#3b4a6b" stroke-width="0.9"/>
<rect x="508.8" y="288.7" width="21.1" height="8.2" rx="1.5" ry="1.5" fill="#dde1ec" stroke="#44598a" stroke-width="0.75"/>
<text x="519.4" y="294.97" font-size="5.84" text-anchor="middle" textLength="18.0" lengthAdjust="spacingAndGlyphs" fill="#1f1f1f" stroke="#1f1f1f" stroke-width="0.16">35.0%</text>
<line x1="550.0" y1="296.6" x2="550.0" y2="300.1" stroke="#3b4a6b" stroke-width="0.9"/>
<rect x="539.4" y="288.7" width="21.1" height="8.2" rx="1.5" ry="1.5" fill="#dde1ec" stroke="#44598a" stroke-width="0.75"/>
<text x="550" y="294.97" font-size="5.84" text-anchor="middle" textLength="18.0" lengthAdjust="spacingAndGlyphs" fill="#1f1f1f" stroke="#1f1f1f" stroke-width="0.16">30.0%</text>
<line x1="580.6" y1="296.6" x2="580.6" y2="300.1" stroke="#3b4a6b" stroke-width="0.9"/>
<rect x="570.0" y="288.7" width="21.1" height="8.2" rx="1.5" ry="1.5" fill="#dde1ec" stroke="#44598a" stroke-width="0.75"/>
<text x="580.6" y="294.97" font-size="5.84" text-anchor="middle" textLength="18.0" lengthAdjust="spacingAndGlyphs" fill="#1f1f1f" stroke="#1f1f1f" stroke-width="0.16">24.0%</text>
<line x1="580.6" y1="241.6" x2="580.6" y2="245.1" stroke="#3b4a6b" stroke-width="0.9"/>
<rect x="570.0" y="233.7" width="21.1" height="8.2" rx="1.5" ry="1.5" fill="#dde1ec" stroke="#44598a" stroke-width="0.75"/>
<text x="580.6" y="239.97" font-size="5.84" text-anchor="middle" textLength="18.0" lengthAdjust="spacingAndGlyphs" fill="#1f1f1f" stroke="#1f1f1f" stroke-width="0.16">22.8%</text>
<line x1="611.2" y1="296.6" x2="611.2" y2="300.1" stroke="#3b4a6b" stroke-width="0.9"/>
<rect x="600.6" y="288.7" width="21.1" height="8.2" rx="1.5" ry="1.5" fill="#dde1ec" stroke="#44598a" stroke-width="0.75"/>
<text x="611.2" y="294.97" font-size="5.84" text-anchor="middle" textLength="18.0" lengthAdjust="spacingAndGlyphs" fill="#1f1f1f" stroke="#1f1f1f" stroke-width="0.16">19.0%</text>
<line x1="611.2" y1="241.6" x2="611.2" y2="245.1" stroke="#3b4a6b" stroke-width="0.9"/>
<rect x="600.6" y="233.7" width="21.1" height="8.2" rx="1.5" ry="1.5" fill="#dde1ec" stroke="#44598a" stroke-width="0.75"/>
<text x="611.2" y="239.97" font-size="5.84" text-anchor="middle" textLength="18.0" lengthAdjust="spacingAndGlyphs" fill="#1f1f1f" stroke="#1f1f1f" stroke-width="0.16">18.1%</text>
<line x1="611.2" y1="186.6" x2="611.2" y2="190.1" stroke="#3b4a6b" stroke-width="0.9"/>
<rect x="600.6" y="178.7" width="21.1" height="8.2" rx="1.5" ry="1.5" fill="#dde1ec" stroke="#44598a" stroke-width="0.75"/>
<text x="611.2" y="184.97" font-size="5.84" text-anchor="middle" textLength="18.0" lengthAdjust="spacingAndGlyphs" fill="#1f1f1f" stroke="#1f1f1f" stroke-width="0.16">17.1%</text>
<line x1="611.2" y1="153.6" x2="611.2" y2="157.1" stroke="#3b4a6b" stroke-width="0.9"/>
<rect x="600.6" y="145.7" width="21.1" height="8.2" rx="1.5" ry="1.5" fill="#dde1ec" stroke="#44598a" stroke-width="0.75"/>
<text x="611.2" y="151.97" font-size="5.84" text-anchor="middle" textLength="18.0" lengthAdjust="spacingAndGlyphs" fill="#1f1f1f" stroke="#1f1f1f" stroke-width="0.16">16.5%</text>
<line x1="611.2" y1="131.6" x2="611.2" y2="135.1" stroke="#3b4a6b" stroke-width="0.9"/>
<rect x="600.6" y="123.7" width="21.1" height="8.2" rx="1.5" ry="1.5" fill="#dde1ec" stroke="#44598a" stroke-width="0.75"/>
<text x="611.2" y="129.97" font-size="5.84" text-anchor="middle" textLength="18.0" lengthAdjust="spacingAndGlyphs" fill="#1f1f1f" stroke="#1f1f1f" stroke-width="0.16">16.1%</text>
<line x1="606.5" y1="114.6" x2="609.7" y2="114.6" stroke="#3b4a6b" stroke-width="0.9"/>
<rect x="585.8" y="110.5" width="21.1" height="8.2" rx="1.5" ry="1.5" fill="#dde1ec" stroke="#44598a" stroke-width="0.75"/>
<text x="596.3" y="116.77" font-size="5.84" text-anchor="middle" textLength="18.0" lengthAdjust="spacingAndGlyphs" fill="#1f1f1f" stroke="#1f1f1f" stroke-width="0.16">15.8%</text>
<line x1="606.5" y1="81.6" x2="609.7" y2="81.6" stroke="#3b4a6b" stroke-width="0.9"/>
<rect x="585.8" y="77.5" width="21.1" height="8.2" rx="1.5" ry="1.5" fill="#dde1ec" stroke="#44598a" stroke-width="0.75"/>
<text x="596.3" y="83.77" font-size="5.84" text-anchor="middle" textLength="18.0" lengthAdjust="spacingAndGlyphs" fill="#1f1f1f" stroke="#1f1f1f" stroke-width="0.16">15.2%</text>
<line x1="606.5" y1="48.6" x2="609.7" y2="48.6" stroke="#3b4a6b" stroke-width="0.9"/>
<rect x="585.8" y="44.5" width="21.1" height="8.2" rx="1.5" ry="1.5" fill="#dde1ec" stroke="#44598a" stroke-width="0.75"/>
<text x="596.3" y="50.77" font-size="5.84" text-anchor="middle" textLength="18.0" lengthAdjust="spacingAndGlyphs" fill="#1f1f1f" stroke="#1f1f1f" stroke-width="0.16">14.6%</text>
<line x1="606.5" y1="26.6" x2="609.7" y2="26.6" stroke="#3b4a6b" stroke-width="0.9"/>
<rect x="585.8" y="22.5" width="21.1" height="8.2" rx="1.5" ry="1.5" fill="#dde1ec" stroke="#44598a" stroke-width="0.75"/>
<text x="596.3" y="28.77" font-size="5.84" text-anchor="middle" textLength="18.0" lengthAdjust="spacingAndGlyphs" fill="#1f1f1f" stroke="#1f1f1f" stroke-width="0.16">14.2%</text>
<circle cx="427.6" cy="301.6" r="1.55" fill="#ffee00" stroke="#ff0000" stroke-width="1.1"/>
<circle cx="458.2" cy="301.6" r="1.55" fill="#ffee00" stroke="#ff0000" stroke-width="1.1"/>
<circle cx="488.8" cy="301.6" r="1.55" fill="#ffee00" stroke="#ff0000" stroke-width="1.1"/>
<circle cx="519.4" cy="301.6" r="1.55" fill="#ffee00" stroke="#ff0000" stroke-width="1.1"/>
<circle cx="550" cy="301.6" r="1.55" fill="#ffee00" stroke="#ff0000" stroke-width="1.1"/>
<circle cx="580.6" cy="301.6" r="1.55" fill="#ffee00" stroke="#ff0000" stroke-width="1.1"/>
<circle cx="580.6" cy="246.6" r="1.55" fill="#ffee00" stroke="#ff0000" stroke-width="1.1"/>
<circle cx="611.2" cy="301.6" r="1.55" fill="#ffee00" stroke="#ff0000" stroke-width="1.1"/>
<circle cx="611.2" cy="246.6" r="1.55" fill="#ffee00" stroke="#ff0000" stroke-width="1.1"/>
<circle cx="611.2" cy="191.6" r="1.55" fill="#ffee00" stroke="#ff0000" stroke-width="1.1"/>
<circle cx="611.2" cy="158.6" r="1.55" fill="#ffee00" stroke="#ff0000" stroke-width="1.1"/>
<circle cx="611.2" cy="136.6" r="1.55" fill="#ffee00" stroke="#ff0000" stroke-width="1.1"/>
<circle cx="611.2" cy="114.6" r="1.55" fill="#ffee00" stroke="#ff0000" stroke-width="1.1"/>
<circle cx="611.2" cy="81.6" r="1.55" fill="#ffee00" stroke="#ff0000" stroke-width="1.1"/>
<circle cx="611.2" cy="48.6" r="1.55" fill="#ffee00" stroke="#ff0000" stroke-width="1.1"/>
<circle cx="611.2" cy="26.6" r="1.55" fill="#ffee00" stroke="#ff0000" stroke-width="1.1"/>
<text x="416.4" y="304.33" font-size="6.57" text-anchor="end" textLength="4.1" lengthAdjust="spacingAndGlyphs" fill="#262626" stroke="#262626" stroke-width="0.16">0</text>
<text x="416.4" y="249.33" font-size="6.57" text-anchor="end" textLength="4.1" lengthAdjust="spacingAndGlyphs" fill="#262626" stroke="#262626" stroke-width="0.16">5</text>
<text x="416.4" y="194.33" font-size="6.57" text-anchor="end" textLength="8.1" lengthAdjust="spacingAndGlyphs" fill="#262626" stroke="#262626" stroke-width="0.16">10</text>
<text x="416.4" y="161.33" font-size="6.57" text-anchor="end" textLength="8.1" lengthAdjust="spacingAndGlyphs" fill="#262626" stroke="#262626" stroke-width="0.16">13</text>
<text x="416.4" y="139.33" font-size="6.57" text-anchor="end" textLength="8.1" lengthAdjust="spacingAndGlyphs" fill="#262626" stroke="#262626" stroke-width="0.16">15</text>
<text x="416.4" y="117.33" font-size="6.57" text-anchor="end" textLength="8.1" lengthAdjust="spacingAndGlyphs" fill="#262626" stroke="#262626" stroke-width="0.16">17</text>
<text x="416.4" y="84.33" font-size="6.57" text-anchor="end" textLength="8.1" lengthAdjust="spacingAndGlyphs" fill="#262626" stroke="#262626" stroke-width="0.16">20</text>
<text x="416.4" y="51.33" font-size="6.57" text-anchor="end" textLength="8.1" lengthAdjust="spacingAndGlyphs" fill="#262626" stroke="#262626" stroke-width="0.16">23</text>
<text x="416.4" y="29.33" font-size="6.57" text-anchor="end" textLength="8.1" lengthAdjust="spacingAndGlyphs" fill="#262626" stroke="#262626" stroke-width="0.16">25</text>
<text x="427.6" y="325.93" font-size="6.57" text-anchor="middle" textLength="11.8" lengthAdjust="spacingAndGlyphs" fill="#262626" stroke="#262626" stroke-width="0.16">F16</text>
<text x="458.2" y="325.93" font-size="6.57" text-anchor="middle" textLength="16.3" lengthAdjust="spacingAndGlyphs" fill="#262626" stroke="#262626" stroke-width="0.16">Q8_0</text>
<text x="488.8" y="325.93" font-size="6.57" text-anchor="middle" textLength="16.5" lengthAdjust="spacingAndGlyphs" fill="#262626" stroke="#262626" stroke-width="0.16">Q6_K</text>
<text x="519.4" y="325.93" font-size="6.57" text-anchor="middle" textLength="25.1" lengthAdjust="spacingAndGlyphs" fill="#262626" stroke="#262626" stroke-width="0.16">Q5_K_M</text>
<text x="550" y="325.93" font-size="6.57" text-anchor="middle" textLength="25.1" lengthAdjust="spacingAndGlyphs" fill="#262626" stroke="#262626" stroke-width="0.16">Q4_K_M</text>
<text x="580.6" y="325.93" font-size="6.57" text-anchor="middle" textLength="25.1" lengthAdjust="spacingAndGlyphs" fill="#262626" stroke="#262626" stroke-width="0.16">Q3_K_M</text>
<text x="611.2" y="325.93" font-size="6.57" text-anchor="middle" textLength="16.5" lengthAdjust="spacingAndGlyphs" fill="#262626" stroke="#262626" stroke-width="0.16">Q2_K</text>
<text x="519.7" y="336.22" font-size="7.41" font-weight="bold" text-anchor="middle" textLength="66.0" lengthAdjust="spacingAndGlyphs" fill="#262626" stroke="#262626" stroke-width="0.1">Quantization Bit</text>
<text x="401.2" y="167.22" font-size="7.41" font-weight="bold" text-anchor="middle" textLength="142.3" lengthAdjust="spacingAndGlyphs" fill="#262626" stroke="#262626" stroke-width="0.1" transform="rotate(-90 401.2 164.6)">Low-Rank Decomposition Ratio (%)</text>
<text x="519.5" y="6.42" font-size="8.81" font-weight="bold" text-anchor="middle" textLength="174.6" lengthAdjust="spacingAndGlyphs" fill="#262626" stroke="#262626" stroke-width="0.1">Projection with Best Trade-off Curve</text>
<rect x="427.8" y="18.2" width="121.2" height="35.4" rx="1.4" fill="#fff" fill-opacity="0.8" stroke="#cccccc" stroke-opacity="0.8" stroke-width="0.7"/>
<line x1="430.2" y1="25.5" x2="446" y2="25.5" stroke="#ff0000" stroke-width="1.3"/>
<circle cx="438.1" cy="25.5" r="1.55" fill="#ffee00" stroke="#ff0000" stroke-width="1.1"/>
<rect x="430.5" y="33.5" width="15.2" height="5.2" fill="#dde1ec" stroke="#44598a" stroke-width="0.75"/>
<line x1="430.2" y1="46.6" x2="446" y2="46.6" stroke="#ff8412" stroke-width="1.5"/>
<polygon points="438.1,43.9 438.7,45.8 440.7,45.8 439.1,46.9 439.7,48.8 438.1,47.6 436.5,48.8 437.1,46.9 435.5,45.8 437.5,45.8" fill="#ff8412" stroke="#ff8412" stroke-width="0.5" stroke-linejoin="miter"/>
<text x="451" y="28.09" font-size="7.30" text-anchor="start" textLength="72.4" lengthAdjust="spacingAndGlyphs" fill="#262626" stroke="#262626" stroke-width="0.16">Best Trade-off Curve</text>
<text x="451" y="38.39" font-size="7.30" text-anchor="start" textLength="52.6" lengthAdjust="spacingAndGlyphs" fill="#262626" stroke="#262626" stroke-width="0.16">Model Size (%)</text>
<text x="451" y="49.19" font-size="7.30" text-anchor="start" textLength="95.2" lengthAdjust="spacingAndGlyphs" fill="#262626" stroke="#262626" stroke-width="0.16">Phase Transition (PPL=7.5)</text>
</g>
<g id="cbar">
<rect x="639.8" y="292.80" width="14.4" height="19.80" fill="#3333c5" stroke="#3333c5" stroke-width="0.2"/>
<rect x="639.8" y="273.00" width="14.4" height="19.80" fill="#3347ff" stroke="#3347ff" stroke-width="0.2"/>
<rect x="639.8" y="253.20" width="14.4" height="19.80" fill="#339aff" stroke="#339aff" stroke-width="0.2"/>
<rect x="639.8" y="233.40" width="14.4" height="19.80" fill="#33eaf9" stroke="#33eaf9" stroke-width="0.2"/>
<rect x="639.8" y="213.60" width="14.4" height="19.80" fill="#75ffb6" stroke="#75ffb6" stroke-width="0.2"/>
<rect x="639.8" y="193.80" width="14.4" height="19.80" fill="#b6ff75" stroke="#b6ff75" stroke-width="0.2"/>
<rect x="639.8" y="174.00" width="14.4" height="19.80" fill="#f9f733" stroke="#f9f733" stroke-width="0.2"/>
<rect x="639.8" y="154.20" width="14.4" height="19.80" fill="#ffaa33" stroke="#ffaa33" stroke-width="0.2"/>
<rect x="639.8" y="134.40" width="14.4" height="19.80" fill="#ff6033" stroke="#ff6033" stroke-width="0.2"/>
<rect x="639.8" y="114.60" width="14.4" height="19.80" fill="#c53333" stroke="#c53333" stroke-width="0.2"/>
<rect x="639.8" y="94.80" width="14.4" height="19.80" fill="#993333" stroke="#993333" stroke-width="0.2"/>
<rect x="639.8" y="75.00" width="14.4" height="19.80" fill="#993333" stroke="#993333" stroke-width="0.2"/>
<rect x="639.8" y="55.20" width="14.4" height="19.80" fill="#993333" stroke="#993333" stroke-width="0.2"/>
<rect x="639.8" y="35.40" width="14.4" height="19.80" fill="#993333" stroke="#993333" stroke-width="0.2"/>
<rect x="639.8" y="15.60" width="14.4" height="19.80" fill="#993333" stroke="#993333" stroke-width="0.2"/>
<rect x="639.8" y="15.6" width="14.4" height="297" fill="none" stroke="#cccccc" stroke-width="0.8"/>
<line x1="654.8" y1="312.6" x2="659.8" y2="312.6" stroke="#262626" stroke-width="0.95"/>
<text x="663.2" y="314.93" font-size="6.57" text-anchor="start" textLength="4.1" lengthAdjust="spacingAndGlyphs" fill="#262626" stroke="#262626" stroke-width="0.16">0</text>
<line x1="654.8" y1="273.0" x2="659.8" y2="273.0" stroke="#262626" stroke-width="0.95"/>
<text x="663.2" y="275.33" font-size="6.57" text-anchor="start" textLength="8.1" lengthAdjust="spacingAndGlyphs" fill="#262626" stroke="#262626" stroke-width="0.16">20</text>
<line x1="654.8" y1="233.4" x2="659.8" y2="233.4" stroke="#262626" stroke-width="0.95"/>
<text x="663.2" y="235.73" font-size="6.57" text-anchor="start" textLength="8.1" lengthAdjust="spacingAndGlyphs" fill="#262626" stroke="#262626" stroke-width="0.16">40</text>
<line x1="654.8" y1="193.8" x2="659.8" y2="193.8" stroke="#262626" stroke-width="0.95"/>
<text x="663.2" y="196.13" font-size="6.57" text-anchor="start" textLength="8.1" lengthAdjust="spacingAndGlyphs" fill="#262626" stroke="#262626" stroke-width="0.16">60</text>
<line x1="654.8" y1="154.2" x2="659.8" y2="154.2" stroke="#262626" stroke-width="0.95"/>
<text x="663.2" y="156.53" font-size="6.57" text-anchor="start" textLength="8.1" lengthAdjust="spacingAndGlyphs" fill="#262626" stroke="#262626" stroke-width="0.16">80</text>
<line x1="654.8" y1="114.6" x2="659.8" y2="114.6" stroke="#262626" stroke-width="0.95"/>
<text x="663.2" y="116.93" font-size="6.57" text-anchor="start" textLength="12.2" lengthAdjust="spacingAndGlyphs" fill="#262626" stroke="#262626" stroke-width="0.16">100</text>
<line x1="654.8" y1="75.0" x2="659.8" y2="75.0" stroke="#262626" stroke-width="0.95"/>
<text x="663.2" y="77.33" font-size="6.57" text-anchor="start" textLength="12.2" lengthAdjust="spacingAndGlyphs" fill="#262626" stroke="#262626" stroke-width="0.16">120</text>
<line x1="654.8" y1="35.4" x2="659.8" y2="35.4" stroke="#262626" stroke-width="0.95"/>
<text x="663.2" y="37.73" font-size="6.57" text-anchor="start" textLength="12.2" lengthAdjust="spacingAndGlyphs" fill="#262626" stroke="#262626" stroke-width="0.16">140</text>
<text x="681.2" y="166.23" font-size="7.42" font-weight="bold" text-anchor="middle" textLength="65.7" lengthAdjust="spacingAndGlyphs" fill="#262626" stroke="#262626" stroke-width="0.1" transform="rotate(-90 681.2 163.6)">Perplexity (PPL)</text>
</g>
<text x="184.7" y="370.2" font-size="11.8" font-weight="bold" text-anchor="middle" fill="#1a1a1a">a</text>
<text x="531.8" y="370.2" font-size="11.8" font-weight="bold" text-anchor="middle" fill="#1a1a1a">b</text>
</svg>
</body></html>
